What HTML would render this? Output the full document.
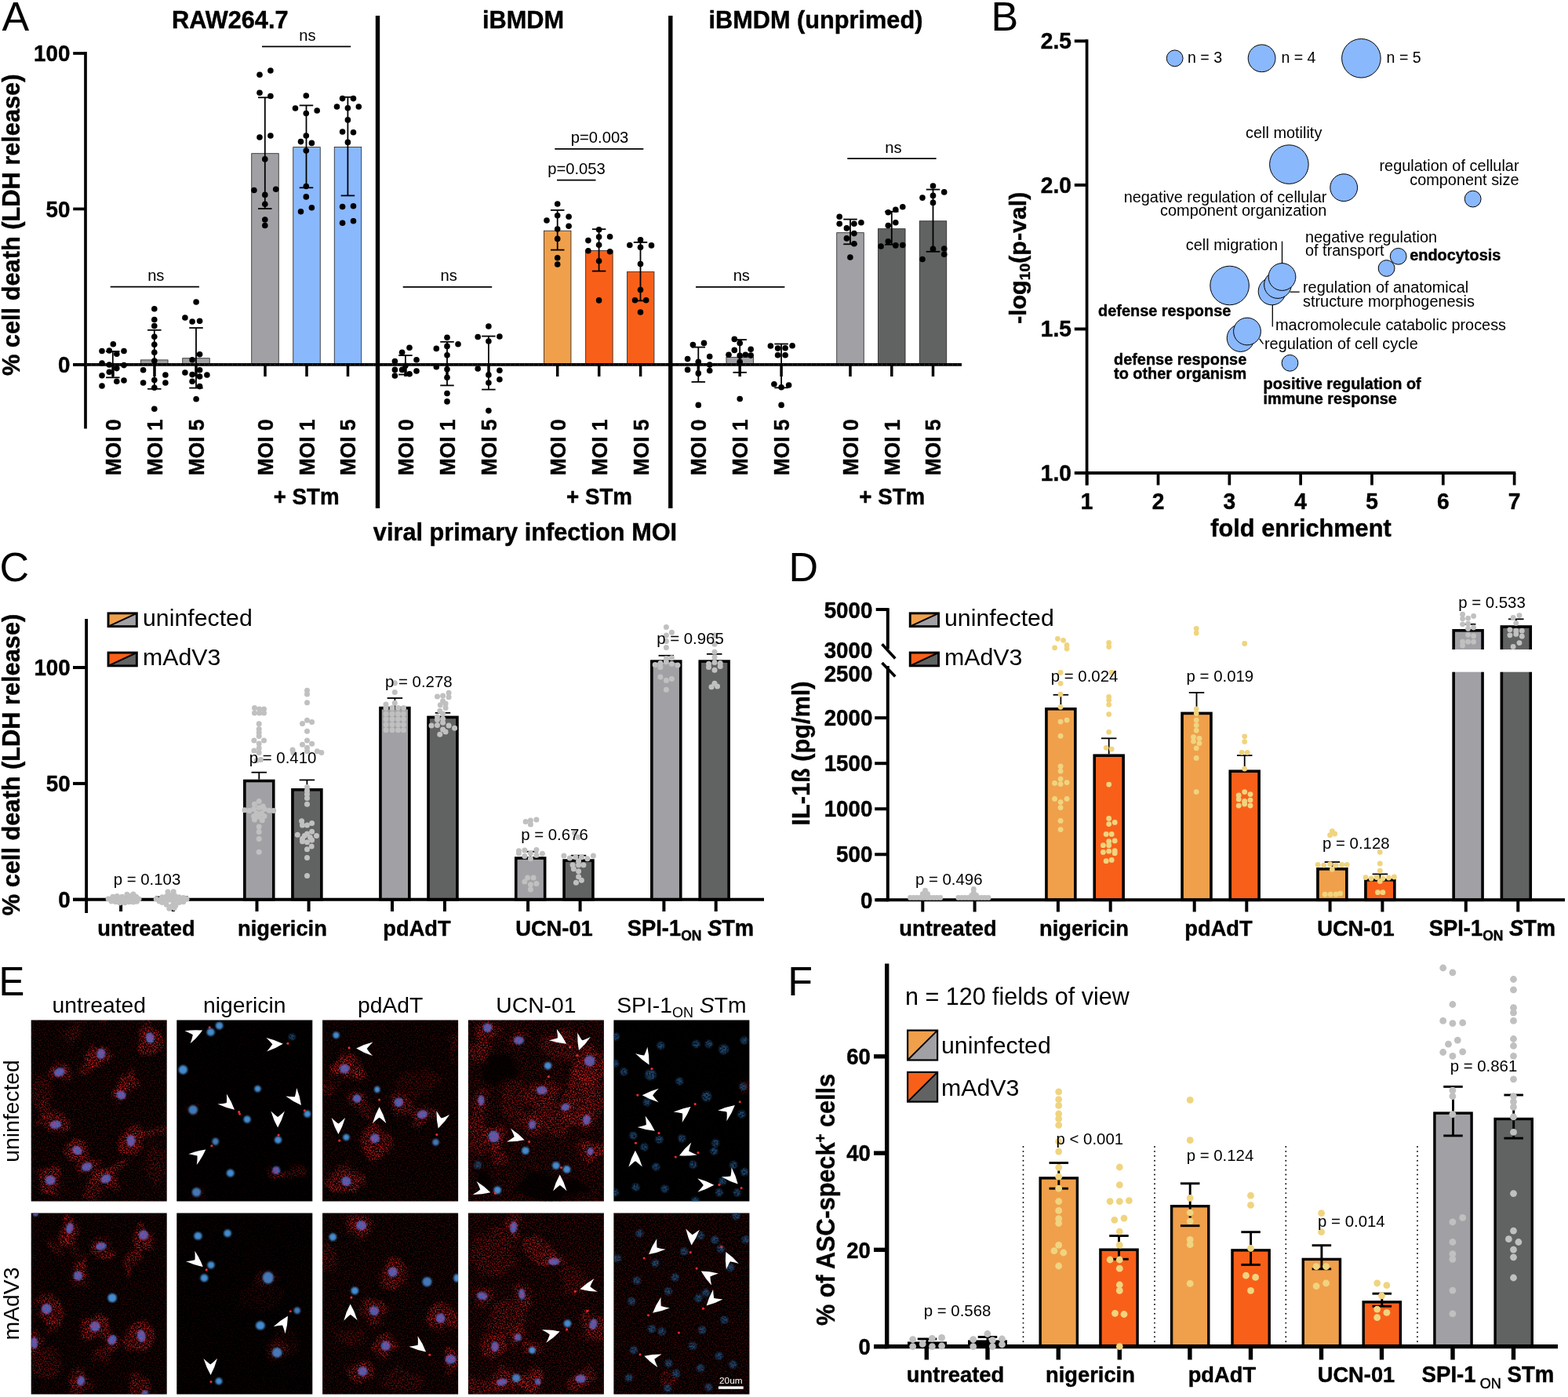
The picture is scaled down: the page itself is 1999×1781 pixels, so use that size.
<!DOCTYPE html>
<html lang="en"><head><meta charset="utf-8"><title>Figure</title>
<style>
html,body{margin:0;padding:0;background:#fff;}
body{width:1999px;height:1781px;overflow:hidden;}
svg{display:block;font-family:"Liberation Sans", Arial, Helvetica, sans-serif;}
</style></head><body>
<svg width="1999" height="1781" viewBox="0 0 1999 1781">
<rect x="0" y="0" width="1999" height="1781" fill="#fff"/>
<text x="2.50" y="39.20" font-size="52" text-anchor="start" fill="#000" >A</text>
<text x="293.30" y="36.20" font-size="31.93" font-weight="bold" stroke="#000" stroke-width="0.45" stroke-linejoin="round" text-anchor="middle" fill="#000"  textLength="148.45" lengthAdjust="spacingAndGlyphs">RAW264.7</text>
<text x="667.00" y="36.20" font-size="31.93" font-weight="bold" stroke="#000" stroke-width="0.45" stroke-linejoin="round" text-anchor="middle" fill="#000"  textLength="104.02" lengthAdjust="spacingAndGlyphs">iBMDM</text>
<text x="1040.00" y="36.20" font-size="31.93" font-weight="bold" stroke="#000" stroke-width="0.45" stroke-linejoin="round" text-anchor="middle" fill="#000"  textLength="272.85" lengthAdjust="spacingAndGlyphs">iBMDM (unprimed)</text>
<text x="25.30" y="286.80" font-size="31.98" font-weight="bold" stroke="#000" stroke-width="0.45" stroke-linejoin="round" text-anchor="middle" fill="#000" transform="rotate(-90 25.30 286.80)"  textLength="384.51" lengthAdjust="spacingAndGlyphs">% cell death (LDH release)</text>
<rect x="320.75" y="195.70" width="34.50" height="269.10" fill="#a1a1a5" stroke="#222" stroke-width="0.8" />
<rect x="373.75" y="187.60" width="34.50" height="277.20" fill="#8ab8fc" stroke="#222" stroke-width="0.8" />
<rect x="426.25" y="187.40" width="34.50" height="277.40" fill="#8ab8fc" stroke="#222" stroke-width="0.8" />
<rect x="179.55" y="458.90" width="34.50" height="5.90" fill="#a1a1a5" stroke="#222" stroke-width="0.8" />
<rect x="232.75" y="456.70" width="34.50" height="8.10" fill="#a1a1a5" stroke="#222" stroke-width="0.8" />
<rect x="693.45" y="294.20" width="34.50" height="170.60" fill="#f0a04b" stroke="#222" stroke-width="0.8" />
<rect x="746.65" y="319.60" width="34.50" height="145.20" fill="#f8601a" stroke="#222" stroke-width="0.8" />
<rect x="799.45" y="346.60" width="34.50" height="118.20" fill="#f8601a" stroke="#222" stroke-width="0.8" />
<rect x="925.95" y="455.40" width="34.50" height="9.40" fill="#a1a1a5" stroke="#222" stroke-width="0.8" />
<rect x="1066.75" y="296.70" width="34.50" height="168.10" fill="#a1a1a5" stroke="#222" stroke-width="0.8" />
<rect x="1119.55" y="291.70" width="34.50" height="173.10" fill="#616262" stroke="#222" stroke-width="0.8" />
<rect x="1172.25" y="281.80" width="34.50" height="183.00" fill="#616262" stroke="#222" stroke-width="0.8" />
<line x1="109.00" y1="66.10" x2="109.00" y2="546.60" stroke="#000" stroke-width="3.7" />
<line x1="93.20" y1="464.80" x2="109.00" y2="464.80" stroke="#000" stroke-width="3.7" />
<text x="89.30" y="475.10" font-size="28.81" font-weight="bold" stroke="#000" stroke-width="0.45" stroke-linejoin="round" text-anchor="end" fill="#000"  textLength="15.41" lengthAdjust="spacingAndGlyphs">0</text>
<line x1="93.20" y1="266.40" x2="109.00" y2="266.40" stroke="#000" stroke-width="3.7" />
<text x="89.30" y="276.70" font-size="28.81" font-weight="bold" stroke="#000" stroke-width="0.45" stroke-linejoin="round" text-anchor="end" fill="#000"  textLength="30.81" lengthAdjust="spacingAndGlyphs">50</text>
<line x1="93.20" y1="68.00" x2="109.00" y2="68.00" stroke="#000" stroke-width="3.7" />
<text x="89.30" y="78.30" font-size="28.81" font-weight="bold" stroke="#000" stroke-width="0.45" stroke-linejoin="round" text-anchor="end" fill="#000"  textLength="46.22" lengthAdjust="spacingAndGlyphs">100</text>
<line x1="93.20" y1="464.80" x2="1226.00" y2="464.80" stroke="#000" stroke-width="3.7" />
<line x1="110.00" y1="464.80" x2="1226.00" y2="464.80" stroke="#fff" stroke-width="1" stroke-dasharray="1 5" opacity="0.35"/>
<line x1="144.00" y1="464.80" x2="144.00" y2="480.00" stroke="#000" stroke-width="3.5" />
<text x="153.90" y="534.50" font-size="27.6" font-weight="bold" stroke="#000" stroke-width="0.45" stroke-linejoin="round" text-anchor="end" fill="#000" transform="rotate(-90 153.90 534.50)" textLength="71.5" lengthAdjust="spacingAndGlyphs">MOI 0</text>
<line x1="197.00" y1="464.80" x2="197.00" y2="480.00" stroke="#000" stroke-width="3.5" />
<text x="206.90" y="534.50" font-size="27.6" font-weight="bold" stroke="#000" stroke-width="0.45" stroke-linejoin="round" text-anchor="end" fill="#000" transform="rotate(-90 206.90 534.50)" textLength="71.5" lengthAdjust="spacingAndGlyphs">MOI 1</text>
<line x1="250.00" y1="464.80" x2="250.00" y2="480.00" stroke="#000" stroke-width="3.5" />
<text x="259.90" y="534.50" font-size="27.6" font-weight="bold" stroke="#000" stroke-width="0.45" stroke-linejoin="round" text-anchor="end" fill="#000" transform="rotate(-90 259.90 534.50)" textLength="71.5" lengthAdjust="spacingAndGlyphs">MOI 5</text>
<line x1="338.00" y1="464.80" x2="338.00" y2="480.00" stroke="#000" stroke-width="3.5" />
<text x="347.90" y="534.50" font-size="27.6" font-weight="bold" stroke="#000" stroke-width="0.45" stroke-linejoin="round" text-anchor="end" fill="#000" transform="rotate(-90 347.90 534.50)" textLength="71.5" lengthAdjust="spacingAndGlyphs">MOI 0</text>
<line x1="391.00" y1="464.80" x2="391.00" y2="480.00" stroke="#000" stroke-width="3.5" />
<text x="400.90" y="534.50" font-size="27.6" font-weight="bold" stroke="#000" stroke-width="0.45" stroke-linejoin="round" text-anchor="end" fill="#000" transform="rotate(-90 400.90 534.50)" textLength="71.5" lengthAdjust="spacingAndGlyphs">MOI 1</text>
<line x1="443.50" y1="464.80" x2="443.50" y2="480.00" stroke="#000" stroke-width="3.5" />
<text x="453.40" y="534.50" font-size="27.6" font-weight="bold" stroke="#000" stroke-width="0.45" stroke-linejoin="round" text-anchor="end" fill="#000" transform="rotate(-90 453.40 534.50)" textLength="71.5" lengthAdjust="spacingAndGlyphs">MOI 5</text>
<line x1="517.00" y1="464.80" x2="517.00" y2="480.00" stroke="#000" stroke-width="3.5" />
<text x="526.90" y="534.50" font-size="27.6" font-weight="bold" stroke="#000" stroke-width="0.45" stroke-linejoin="round" text-anchor="end" fill="#000" transform="rotate(-90 526.90 534.50)" textLength="71.5" lengthAdjust="spacingAndGlyphs">MOI 0</text>
<line x1="570.00" y1="464.80" x2="570.00" y2="480.00" stroke="#000" stroke-width="3.5" />
<text x="579.90" y="534.50" font-size="27.6" font-weight="bold" stroke="#000" stroke-width="0.45" stroke-linejoin="round" text-anchor="end" fill="#000" transform="rotate(-90 579.90 534.50)" textLength="71.5" lengthAdjust="spacingAndGlyphs">MOI 1</text>
<line x1="623.00" y1="464.80" x2="623.00" y2="480.00" stroke="#000" stroke-width="3.5" />
<text x="632.90" y="534.50" font-size="27.6" font-weight="bold" stroke="#000" stroke-width="0.45" stroke-linejoin="round" text-anchor="end" fill="#000" transform="rotate(-90 632.90 534.50)" textLength="71.5" lengthAdjust="spacingAndGlyphs">MOI 5</text>
<line x1="710.70" y1="464.80" x2="710.70" y2="480.00" stroke="#000" stroke-width="3.5" />
<text x="720.60" y="534.50" font-size="27.6" font-weight="bold" stroke="#000" stroke-width="0.45" stroke-linejoin="round" text-anchor="end" fill="#000" transform="rotate(-90 720.60 534.50)" textLength="71.5" lengthAdjust="spacingAndGlyphs">MOI 0</text>
<line x1="763.70" y1="464.80" x2="763.70" y2="480.00" stroke="#000" stroke-width="3.5" />
<text x="773.60" y="534.50" font-size="27.6" font-weight="bold" stroke="#000" stroke-width="0.45" stroke-linejoin="round" text-anchor="end" fill="#000" transform="rotate(-90 773.60 534.50)" textLength="71.5" lengthAdjust="spacingAndGlyphs">MOI 1</text>
<line x1="816.60" y1="464.80" x2="816.60" y2="480.00" stroke="#000" stroke-width="3.5" />
<text x="826.50" y="534.50" font-size="27.6" font-weight="bold" stroke="#000" stroke-width="0.45" stroke-linejoin="round" text-anchor="end" fill="#000" transform="rotate(-90 826.50 534.50)" textLength="71.5" lengthAdjust="spacingAndGlyphs">MOI 5</text>
<line x1="890.30" y1="464.80" x2="890.30" y2="480.00" stroke="#000" stroke-width="3.5" />
<text x="900.20" y="534.50" font-size="27.6" font-weight="bold" stroke="#000" stroke-width="0.45" stroke-linejoin="round" text-anchor="end" fill="#000" transform="rotate(-90 900.20 534.50)" textLength="71.5" lengthAdjust="spacingAndGlyphs">MOI 0</text>
<line x1="943.20" y1="464.80" x2="943.20" y2="480.00" stroke="#000" stroke-width="3.5" />
<text x="953.10" y="534.50" font-size="27.6" font-weight="bold" stroke="#000" stroke-width="0.45" stroke-linejoin="round" text-anchor="end" fill="#000" transform="rotate(-90 953.10 534.50)" textLength="71.5" lengthAdjust="spacingAndGlyphs">MOI 1</text>
<line x1="996.10" y1="464.80" x2="996.10" y2="480.00" stroke="#000" stroke-width="3.5" />
<text x="1006.00" y="534.50" font-size="27.6" font-weight="bold" stroke="#000" stroke-width="0.45" stroke-linejoin="round" text-anchor="end" fill="#000" transform="rotate(-90 1006.00 534.50)" textLength="71.5" lengthAdjust="spacingAndGlyphs">MOI 5</text>
<line x1="1084.00" y1="464.80" x2="1084.00" y2="480.00" stroke="#000" stroke-width="3.5" />
<text x="1093.90" y="534.50" font-size="27.6" font-weight="bold" stroke="#000" stroke-width="0.45" stroke-linejoin="round" text-anchor="end" fill="#000" transform="rotate(-90 1093.90 534.50)" textLength="71.5" lengthAdjust="spacingAndGlyphs">MOI 0</text>
<line x1="1136.80" y1="464.80" x2="1136.80" y2="480.00" stroke="#000" stroke-width="3.5" />
<text x="1146.70" y="534.50" font-size="27.6" font-weight="bold" stroke="#000" stroke-width="0.45" stroke-linejoin="round" text-anchor="end" fill="#000" transform="rotate(-90 1146.70 534.50)" textLength="71.5" lengthAdjust="spacingAndGlyphs">MOI 1</text>
<line x1="1189.50" y1="464.80" x2="1189.50" y2="480.00" stroke="#000" stroke-width="3.5" />
<text x="1199.40" y="534.50" font-size="27.6" font-weight="bold" stroke="#000" stroke-width="0.45" stroke-linejoin="round" text-anchor="end" fill="#000" transform="rotate(-90 1199.40 534.50)" textLength="71.5" lengthAdjust="spacingAndGlyphs">MOI 5</text>
<text x="390.60" y="642.50" font-size="28.81" font-weight="bold" stroke="#000" stroke-width="0.45" stroke-linejoin="round" text-anchor="middle" fill="#000"  textLength="83.90" lengthAdjust="spacingAndGlyphs">+ STm</text>
<text x="764.00" y="642.50" font-size="28.81" font-weight="bold" stroke="#000" stroke-width="0.45" stroke-linejoin="round" text-anchor="middle" fill="#000"  textLength="83.90" lengthAdjust="spacingAndGlyphs">+ STm</text>
<text x="1137.30" y="642.50" font-size="28.81" font-weight="bold" stroke="#000" stroke-width="0.45" stroke-linejoin="round" text-anchor="middle" fill="#000"  textLength="83.90" lengthAdjust="spacingAndGlyphs">+ STm</text>
<text x="669.50" y="689.00" font-size="31.93" font-weight="bold" stroke="#000" stroke-width="0.45" stroke-linejoin="round" text-anchor="middle" fill="#000"  textLength="387.26" lengthAdjust="spacingAndGlyphs">viral primary infection MOI</text>
<line x1="481.50" y1="20.00" x2="481.50" y2="648.00" stroke="#000" stroke-width="5.4" />
<line x1="854.80" y1="20.00" x2="854.80" y2="648.00" stroke="#000" stroke-width="5.4" />
<line x1="143.80" y1="448.00" x2="143.80" y2="481.30" stroke="#000" stroke-width="1.8" />
<line x1="135.05" y1="448.00" x2="152.55" y2="448.00" stroke="#000" stroke-width="1.8" />
<line x1="135.05" y1="481.30" x2="152.55" y2="481.30" stroke="#000" stroke-width="1.8" />
<line x1="196.80" y1="420.80" x2="196.80" y2="495.80" stroke="#000" stroke-width="1.8" />
<line x1="188.05" y1="420.80" x2="205.55" y2="420.80" stroke="#000" stroke-width="1.8" />
<line x1="188.05" y1="495.80" x2="205.55" y2="495.80" stroke="#000" stroke-width="1.8" />
<line x1="250.00" y1="418.00" x2="250.00" y2="494.60" stroke="#000" stroke-width="1.8" />
<line x1="241.25" y1="418.00" x2="258.75" y2="418.00" stroke="#000" stroke-width="1.8" />
<line x1="241.25" y1="494.60" x2="258.75" y2="494.60" stroke="#000" stroke-width="1.8" />
<line x1="337.80" y1="124.30" x2="337.80" y2="266.00" stroke="#000" stroke-width="1.8" />
<line x1="329.05" y1="124.30" x2="346.55" y2="124.30" stroke="#000" stroke-width="1.8" />
<line x1="329.05" y1="266.00" x2="346.55" y2="266.00" stroke="#000" stroke-width="1.8" />
<line x1="390.50" y1="134.40" x2="390.50" y2="239.30" stroke="#000" stroke-width="1.8" />
<line x1="381.75" y1="134.40" x2="399.25" y2="134.40" stroke="#000" stroke-width="1.8" />
<line x1="381.75" y1="239.30" x2="399.25" y2="239.30" stroke="#000" stroke-width="1.8" />
<line x1="443.40" y1="123.80" x2="443.40" y2="249.40" stroke="#000" stroke-width="1.8" />
<line x1="434.65" y1="123.80" x2="452.15" y2="123.80" stroke="#000" stroke-width="1.8" />
<line x1="434.65" y1="249.40" x2="452.15" y2="249.40" stroke="#000" stroke-width="1.8" />
<line x1="516.90" y1="453.10" x2="516.90" y2="477.50" stroke="#000" stroke-width="1.8" />
<line x1="508.15" y1="453.10" x2="525.65" y2="453.10" stroke="#000" stroke-width="1.8" />
<line x1="508.15" y1="477.50" x2="525.65" y2="477.50" stroke="#000" stroke-width="1.8" />
<line x1="570.00" y1="435.80" x2="570.00" y2="491.40" stroke="#000" stroke-width="1.8" />
<line x1="561.25" y1="435.80" x2="578.75" y2="435.80" stroke="#000" stroke-width="1.8" />
<line x1="561.25" y1="491.40" x2="578.75" y2="491.40" stroke="#000" stroke-width="1.8" />
<line x1="622.90" y1="428.60" x2="622.90" y2="496.60" stroke="#000" stroke-width="1.8" />
<line x1="614.15" y1="428.60" x2="631.65" y2="428.60" stroke="#000" stroke-width="1.8" />
<line x1="614.15" y1="496.60" x2="631.65" y2="496.60" stroke="#000" stroke-width="1.8" />
<line x1="710.70" y1="267.90" x2="710.70" y2="318.60" stroke="#000" stroke-width="1.8" />
<line x1="701.95" y1="267.90" x2="719.45" y2="267.90" stroke="#000" stroke-width="1.8" />
<line x1="701.95" y1="318.60" x2="719.45" y2="318.60" stroke="#000" stroke-width="1.8" />
<line x1="763.60" y1="292.20" x2="763.60" y2="345.60" stroke="#000" stroke-width="1.8" />
<line x1="754.85" y1="292.20" x2="772.35" y2="292.20" stroke="#000" stroke-width="1.8" />
<line x1="754.85" y1="345.60" x2="772.35" y2="345.60" stroke="#000" stroke-width="1.8" />
<line x1="816.50" y1="308.90" x2="816.50" y2="383.40" stroke="#000" stroke-width="1.8" />
<line x1="807.75" y1="308.90" x2="825.25" y2="308.90" stroke="#000" stroke-width="1.8" />
<line x1="807.75" y1="383.40" x2="825.25" y2="383.40" stroke="#000" stroke-width="1.8" />
<line x1="890.30" y1="442.60" x2="890.30" y2="486.90" stroke="#000" stroke-width="1.8" />
<line x1="881.55" y1="442.60" x2="899.05" y2="442.60" stroke="#000" stroke-width="1.8" />
<line x1="881.55" y1="486.90" x2="899.05" y2="486.90" stroke="#000" stroke-width="1.8" />
<line x1="943.20" y1="433.10" x2="943.20" y2="474.80" stroke="#000" stroke-width="1.8" />
<line x1="934.45" y1="433.10" x2="951.95" y2="433.10" stroke="#000" stroke-width="1.8" />
<line x1="934.45" y1="474.80" x2="951.95" y2="474.80" stroke="#000" stroke-width="1.8" />
<line x1="996.10" y1="438.50" x2="996.10" y2="494.30" stroke="#000" stroke-width="1.8" />
<line x1="987.35" y1="438.50" x2="1004.85" y2="438.50" stroke="#000" stroke-width="1.8" />
<line x1="987.35" y1="494.30" x2="1004.85" y2="494.30" stroke="#000" stroke-width="1.8" />
<line x1="1084.00" y1="279.60" x2="1084.00" y2="311.30" stroke="#000" stroke-width="1.8" />
<line x1="1075.25" y1="279.60" x2="1092.75" y2="279.60" stroke="#000" stroke-width="1.8" />
<line x1="1075.25" y1="311.30" x2="1092.75" y2="311.30" stroke="#000" stroke-width="1.8" />
<line x1="1136.80" y1="269.70" x2="1136.80" y2="311.80" stroke="#000" stroke-width="1.8" />
<line x1="1128.05" y1="269.70" x2="1145.55" y2="269.70" stroke="#000" stroke-width="1.8" />
<line x1="1128.05" y1="311.80" x2="1145.55" y2="311.80" stroke="#000" stroke-width="1.8" />
<line x1="1189.50" y1="241.60" x2="1189.50" y2="320.80" stroke="#000" stroke-width="1.8" />
<line x1="1180.75" y1="241.60" x2="1198.25" y2="241.60" stroke="#000" stroke-width="1.8" />
<line x1="1180.75" y1="320.80" x2="1198.25" y2="320.80" stroke="#000" stroke-width="1.8" />
<g fill="#000" ><circle cx="331.0" cy="95.3" r="3.8"/><circle cx="344.9" cy="90.0" r="3.8"/><circle cx="331.0" cy="118.2" r="3.8"/><circle cx="344.9" cy="122.5" r="3.8"/><circle cx="331.0" cy="175.0" r="3.8"/><circle cx="344.9" cy="173.0" r="3.8"/><circle cx="337.8" cy="202.9" r="3.8"/><circle cx="323.9" cy="242.5" r="3.8"/><circle cx="351.7" cy="241.3" r="3.8"/><circle cx="337.8" cy="248.4" r="3.8"/><circle cx="337.8" cy="260.2" r="3.8"/><circle cx="337.8" cy="280.0" r="3.8"/><circle cx="337.8" cy="287.5" r="3.8"/><circle cx="390.3" cy="122.0" r="3.8"/><circle cx="376.5" cy="138.0" r="3.8"/><circle cx="404.2" cy="141.0" r="3.8"/><circle cx="390.3" cy="144.5" r="3.8"/><circle cx="390.3" cy="173.0" r="3.8"/><circle cx="383.5" cy="180.6" r="3.8"/><circle cx="397.4" cy="182.4" r="3.8"/><circle cx="390.3" cy="192.0" r="3.8"/><circle cx="390.3" cy="237.5" r="3.8"/><circle cx="390.3" cy="250.9" r="3.8"/><circle cx="383.5" cy="269.8" r="3.8"/><circle cx="397.4" cy="264.8" r="3.8"/><circle cx="436.6" cy="125.6" r="3.8"/><circle cx="450.5" cy="125.6" r="3.8"/><circle cx="429.5" cy="136.0" r="3.8"/><circle cx="457.3" cy="136.0" r="3.8"/><circle cx="443.4" cy="137.7" r="3.8"/><circle cx="443.4" cy="152.9" r="3.8"/><circle cx="436.6" cy="168.0" r="3.8"/><circle cx="450.5" cy="168.8" r="3.8"/><circle cx="443.4" cy="181.4" r="3.8"/><circle cx="436.6" cy="263.5" r="3.8"/><circle cx="450.5" cy="262.8" r="3.8"/><circle cx="436.6" cy="284.2" r="3.8"/><circle cx="450.5" cy="281.7" r="3.8"/><circle cx="144.3" cy="438.8" r="3.8"/><circle cx="130.0" cy="447.5" r="3.8"/><circle cx="139.3" cy="447.0" r="3.8"/><circle cx="158.0" cy="447.5" r="3.8"/><circle cx="148.8" cy="451.3" r="3.8"/><circle cx="130.0" cy="463.0" r="3.8"/><circle cx="139.3" cy="465.0" r="3.8"/><circle cx="158.0" cy="465.6" r="3.8"/><circle cx="148.8" cy="469.6" r="3.8"/><circle cx="139.3" cy="474.3" r="3.8"/><circle cx="130.0" cy="478.8" r="3.8"/><circle cx="158.0" cy="485.0" r="3.8"/><circle cx="148.8" cy="486.3" r="3.8"/><circle cx="130.0" cy="492.0" r="3.8"/><circle cx="196.8" cy="393.8" r="3.8"/><circle cx="196.8" cy="407.5" r="3.8"/><circle cx="196.8" cy="415.5" r="3.8"/><circle cx="196.8" cy="429.3" r="3.8"/><circle cx="196.8" cy="439.3" r="3.8"/><circle cx="196.8" cy="449.3" r="3.8"/><circle cx="196.8" cy="460.0" r="3.8"/><circle cx="182.6" cy="471.8" r="3.8"/><circle cx="210.9" cy="478.0" r="3.8"/><circle cx="196.8" cy="484.6" r="3.8"/><circle cx="182.6" cy="488.0" r="3.8"/><circle cx="210.9" cy="488.0" r="3.8"/><circle cx="196.8" cy="494.3" r="3.8"/><circle cx="196.8" cy="521.3" r="3.8"/><circle cx="250.1" cy="385.0" r="3.8"/><circle cx="235.9" cy="405.0" r="3.8"/><circle cx="245.1" cy="410.0" r="3.8"/><circle cx="254.6" cy="409.3" r="3.8"/><circle cx="254.6" cy="451.8" r="3.8"/><circle cx="245.1" cy="458.8" r="3.8"/><circle cx="254.6" cy="471.8" r="3.8"/><circle cx="235.9" cy="475.0" r="3.8"/><circle cx="245.1" cy="477.6" r="3.8"/><circle cx="263.9" cy="478.0" r="3.8"/><circle cx="254.6" cy="480.0" r="3.8"/><circle cx="245.1" cy="486.3" r="3.8"/><circle cx="254.6" cy="492.6" r="3.8"/><circle cx="250.1" cy="508.8" r="3.8"/><circle cx="522.0" cy="443.2" r="3.8"/><circle cx="512.6" cy="449.3" r="3.8"/><circle cx="503.4" cy="460.6" r="3.8"/><circle cx="531.0" cy="458.8" r="3.8"/><circle cx="516.9" cy="466.2" r="3.8"/><circle cx="503.4" cy="471.4" r="3.8"/><circle cx="512.6" cy="471.4" r="3.8"/><circle cx="531.0" cy="473.0" r="3.8"/><circle cx="522.0" cy="476.8" r="3.8"/><circle cx="503.4" cy="479.0" r="3.8"/><circle cx="570.0" cy="430.2" r="3.8"/><circle cx="584.0" cy="438.7" r="3.8"/><circle cx="556.3" cy="444.4" r="3.8"/><circle cx="570.0" cy="441.4" r="3.8"/><circle cx="570.0" cy="452.7" r="3.8"/><circle cx="556.3" cy="467.8" r="3.8"/><circle cx="570.0" cy="470.7" r="3.8"/><circle cx="570.0" cy="481.3" r="3.8"/><circle cx="570.0" cy="501.5" r="3.8"/><circle cx="570.0" cy="511.9" r="3.8"/><circle cx="622.9" cy="416.0" r="3.8"/><circle cx="609.2" cy="429.5" r="3.8"/><circle cx="636.9" cy="429.0" r="3.8"/><circle cx="622.9" cy="435.1" r="3.8"/><circle cx="609.2" cy="470.0" r="3.8"/><circle cx="636.9" cy="472.3" r="3.8"/><circle cx="622.9" cy="477.9" r="3.8"/><circle cx="636.9" cy="483.8" r="3.8"/><circle cx="622.9" cy="488.0" r="3.8"/><circle cx="622.9" cy="523.6" r="3.8"/><circle cx="710.7" cy="260.0" r="3.8"/><circle cx="710.7" cy="274.7" r="3.8"/><circle cx="725.1" cy="276.2" r="3.8"/><circle cx="697.0" cy="281.0" r="3.8"/><circle cx="725.1" cy="288.2" r="3.8"/><circle cx="710.7" cy="292.0" r="3.8"/><circle cx="710.7" cy="304.4" r="3.8"/><circle cx="710.7" cy="328.7" r="3.8"/><circle cx="710.7" cy="337.0" r="3.8"/><circle cx="763.6" cy="292.7" r="3.8"/><circle cx="763.6" cy="302.1" r="3.8"/><circle cx="777.6" cy="301.7" r="3.8"/><circle cx="749.9" cy="306.6" r="3.8"/><circle cx="763.6" cy="312.2" r="3.8"/><circle cx="749.9" cy="319.7" r="3.8"/><circle cx="777.6" cy="320.8" r="3.8"/><circle cx="763.6" cy="332.7" r="3.8"/><circle cx="763.6" cy="382.9" r="3.8"/><circle cx="816.5" cy="305.7" r="3.8"/><circle cx="802.8" cy="312.5" r="3.8"/><circle cx="830.5" cy="312.9" r="3.8"/><circle cx="816.5" cy="315.2" r="3.8"/><circle cx="816.5" cy="336.6" r="3.8"/><circle cx="816.5" cy="369.6" r="3.8"/><circle cx="809.5" cy="382.8" r="3.8"/><circle cx="823.7" cy="382.8" r="3.8"/><circle cx="816.5" cy="398.0" r="3.8"/><circle cx="883.4" cy="439.6" r="3.8"/><circle cx="897.5" cy="437.4" r="3.8"/><circle cx="876.6" cy="457.6" r="3.8"/><circle cx="904.7" cy="454.5" r="3.8"/><circle cx="890.3" cy="461.2" r="3.8"/><circle cx="904.7" cy="465.1" r="3.8"/><circle cx="876.6" cy="471.4" r="3.8"/><circle cx="904.7" cy="472.5" r="3.8"/><circle cx="890.3" cy="475.9" r="3.8"/><circle cx="890.3" cy="516.4" r="3.8"/><circle cx="936.3" cy="432.4" r="3.8"/><circle cx="943.2" cy="437.4" r="3.8"/><circle cx="936.3" cy="446.4" r="3.8"/><circle cx="957.2" cy="445.3" r="3.8"/><circle cx="929.0" cy="452.2" r="3.8"/><circle cx="943.2" cy="453.4" r="3.8"/><circle cx="950.4" cy="452.2" r="3.8"/><circle cx="957.2" cy="453.1" r="3.8"/><circle cx="943.2" cy="461.2" r="3.8"/><circle cx="943.2" cy="508.5" r="3.8"/><circle cx="982.4" cy="441.0" r="3.8"/><circle cx="1010.1" cy="440.8" r="3.8"/><circle cx="991.6" cy="444.1" r="3.8"/><circle cx="1001.1" cy="443.7" r="3.8"/><circle cx="991.6" cy="452.7" r="3.8"/><circle cx="1001.1" cy="452.7" r="3.8"/><circle cx="986.9" cy="489.8" r="3.8"/><circle cx="1005.6" cy="491.0" r="3.8"/><circle cx="996.1" cy="493.7" r="3.8"/><circle cx="996.1" cy="516.4" r="3.8"/><circle cx="1070.2" cy="276.2" r="3.8"/><circle cx="1070.2" cy="285.2" r="3.8"/><circle cx="1088.9" cy="285.2" r="3.8"/><circle cx="1097.9" cy="283.7" r="3.8"/><circle cx="1079.4" cy="290.9" r="3.8"/><circle cx="1088.9" cy="297.6" r="3.8"/><circle cx="1079.4" cy="303.9" r="3.8"/><circle cx="1088.9" cy="310.7" r="3.8"/><circle cx="1083.9" cy="328.0" r="3.8"/><circle cx="1150.8" cy="263.8" r="3.8"/><circle cx="1141.8" cy="267.2" r="3.8"/><circle cx="1132.3" cy="270.8" r="3.8"/><circle cx="1141.8" cy="283.7" r="3.8"/><circle cx="1132.3" cy="287.5" r="3.8"/><circle cx="1132.3" cy="307.7" r="3.8"/><circle cx="1123.1" cy="314.0" r="3.8"/><circle cx="1141.8" cy="312.9" r="3.8"/><circle cx="1150.8" cy="312.5" r="3.8"/><circle cx="1189.5" cy="237.0" r="3.8"/><circle cx="1203.7" cy="244.9" r="3.8"/><circle cx="1189.5" cy="249.4" r="3.8"/><circle cx="1176.0" cy="252.1" r="3.8"/><circle cx="1189.5" cy="258.4" r="3.8"/><circle cx="1189.5" cy="317.4" r="3.8"/><circle cx="1203.7" cy="317.0" r="3.8"/><circle cx="1203.7" cy="324.2" r="3.8"/><circle cx="1176.0" cy="330.5" r="3.8"/></g>
<line x1="140.70" y1="365.60" x2="254.00" y2="365.60" stroke="#000" stroke-width="1.8" />
<text x="198.80" y="358.10" font-size="20.2" text-anchor="middle" fill="#000" >ns</text>
<line x1="334.00" y1="59.40" x2="447.20" y2="59.40" stroke="#000" stroke-width="1.8" />
<text x="392.00" y="51.90" font-size="20.2" text-anchor="middle" fill="#000" >ns</text>
<line x1="513.70" y1="365.80" x2="627.20" y2="365.80" stroke="#000" stroke-width="1.8" />
<text x="572.20" y="358.30" font-size="20.2" text-anchor="middle" fill="#000" >ns</text>
<line x1="707.30" y1="189.80" x2="820.30" y2="189.80" stroke="#000" stroke-width="1.8" />
<text x="764.60" y="182.30" font-size="20.2" text-anchor="middle" fill="#000" >p=0.003</text>
<line x1="710.00" y1="229.60" x2="759.50" y2="229.60" stroke="#000" stroke-width="1.8" />
<text x="735.00" y="222.10" font-size="20.2" text-anchor="middle" fill="#000" >p=0.053</text>
<line x1="887.00" y1="365.80" x2="1000.40" y2="365.80" stroke="#000" stroke-width="1.8" />
<text x="945.30" y="358.30" font-size="20.2" text-anchor="middle" fill="#000" >ns</text>
<line x1="1080.30" y1="202.20" x2="1193.60" y2="202.20" stroke="#000" stroke-width="1.8" />
<text x="1138.90" y="194.70" font-size="20.2" text-anchor="middle" fill="#000" >ns</text>
<text x="1263.50" y="38.50" font-size="52" text-anchor="start" fill="#000" >B</text>
<circle cx="1497.70" cy="74.30" r="10.40" fill="#8ab8fc" stroke="#000" stroke-width="1" />
<circle cx="1608.60" cy="74.30" r="17.40" fill="#8ab8fc" stroke="#000" stroke-width="1" />
<circle cx="1735.40" cy="74.30" r="24.80" fill="#8ab8fc" stroke="#000" stroke-width="1" />
<text x="1514.00" y="79.80" font-size="19.6" text-anchor="start" fill="#000" >n = 3</text>
<text x="1633.40" y="79.80" font-size="19.6" text-anchor="start" fill="#000" >n = 4</text>
<text x="1767.60" y="79.80" font-size="19.6" text-anchor="start" fill="#000" >n = 5</text>
<circle cx="1643.40" cy="209.60" r="24.80" fill="#8ab8fc" stroke="#000" stroke-width="1" />
<circle cx="1713.20" cy="239.20" r="17.40" fill="#8ab8fc" stroke="#000" stroke-width="1" />
<circle cx="1877.70" cy="253.60" r="10.40" fill="#8ab8fc" stroke="#000" stroke-width="1" />
<circle cx="1767.60" cy="342.00" r="10.40" fill="#8ab8fc" stroke="#000" stroke-width="1" />
<circle cx="1782.70" cy="326.80" r="10.40" fill="#8ab8fc" stroke="#000" stroke-width="1" />
<circle cx="1567.60" cy="364.00" r="24.80" fill="#8ab8fc" stroke="#000" stroke-width="1" />
<circle cx="1621.60" cy="371.40" r="17.40" fill="#8ab8fc" stroke="#000" stroke-width="1" />
<circle cx="1629.00" cy="363.00" r="17.40" fill="#8ab8fc" stroke="#000" stroke-width="1" />
<circle cx="1634.50" cy="353.00" r="17.40" fill="#8ab8fc" stroke="#000" stroke-width="1" />
<circle cx="1581.60" cy="431.00" r="17.40" fill="#8ab8fc" stroke="#000" stroke-width="1" />
<circle cx="1590.00" cy="422.50" r="17.40" fill="#8ab8fc" stroke="#000" stroke-width="1" />
<circle cx="1644.50" cy="462.80" r="10.40" fill="#8ab8fc" stroke="#000" stroke-width="1" />
<text x="1636.70" y="175.60" font-size="19.9" text-anchor="middle" fill="#000" >cell motility</text>
<text x="1936.50" y="218.10" font-size="19.9" text-anchor="end" fill="#000" >regulation of cellular</text>
<text x="1936.50" y="235.90" font-size="19.9" text-anchor="end" fill="#000" >component size</text>
<text x="1691.40" y="257.70" font-size="19.9" text-anchor="end" fill="#000" >negative regulation of cellular</text>
<text x="1691.40" y="275.40" font-size="19.9" text-anchor="end" fill="#000" >component organization</text>
<text x="1629.00" y="318.70" font-size="19.9" text-anchor="end" fill="#000" >cell migration</text>
<line x1="1634.50" y1="307.60" x2="1634.50" y2="336.00" stroke="#000" stroke-width="1.3" />
<text x="1664.00" y="308.70" font-size="19.9" text-anchor="start" fill="#000" >negative regulation</text>
<text x="1664.00" y="326.40" font-size="19.9" text-anchor="start" fill="#000" >of transport</text>
<text x="1797.20" y="331.60" font-size="20.7" font-weight="bold" stroke="#000" stroke-width="0.45" stroke-linejoin="round" text-anchor="start" fill="#000"  textLength="116.12" lengthAdjust="spacingAndGlyphs">endocytosis</text>
<text x="1661.00" y="372.90" font-size="19.9" text-anchor="start" fill="#000" >regulation of anatomical</text>
<text x="1661.00" y="390.70" font-size="19.9" text-anchor="start" fill="#000" >structure morphogenesis</text>
<line x1="1644.50" y1="372.20" x2="1656.70" y2="372.20" stroke="#000" stroke-width="1.3" />
<text x="1569.30" y="402.50" font-size="20.7" font-weight="bold" stroke="#000" stroke-width="0.45" stroke-linejoin="round" text-anchor="end" fill="#000"  textLength="169.22" lengthAdjust="spacingAndGlyphs">defense response</text>
<text x="1626.00" y="421.30" font-size="19.9" text-anchor="start" fill="#000" >macromolecule catabolic process</text>
<line x1="1622.30" y1="388.80" x2="1622.30" y2="416.50" stroke="#000" stroke-width="1.3" />
<text x="1612.00" y="445.00" font-size="19.9" text-anchor="start" fill="#000" >regulation of cell cycle</text>
<line x1="1605.70" y1="432.00" x2="1610.50" y2="438.70" stroke="#000" stroke-width="1.3" />
<text x="1420.00" y="465.30" font-size="20.7" font-weight="bold" stroke="#000" stroke-width="0.45" stroke-linejoin="round" text-anchor="start" fill="#000"  textLength="169.22" lengthAdjust="spacingAndGlyphs">defense response</text>
<text x="1420.00" y="483.00" font-size="20.7" font-weight="bold" stroke="#000" stroke-width="0.45" stroke-linejoin="round" text-anchor="start" fill="#000"  textLength="169.16" lengthAdjust="spacingAndGlyphs">to other organism</text>
<text x="1610.50" y="496.00" font-size="20.7" font-weight="bold" stroke="#000" stroke-width="0.45" stroke-linejoin="round" text-anchor="start" fill="#000"  textLength="201.23" lengthAdjust="spacingAndGlyphs">positive regulation of</text>
<text x="1610.50" y="514.50" font-size="20.7" font-weight="bold" stroke="#000" stroke-width="0.45" stroke-linejoin="round" text-anchor="start" fill="#000"  textLength="170.31" lengthAdjust="spacingAndGlyphs">immune response</text>
<line x1="1385.60" y1="50.30" x2="1385.60" y2="618.50" stroke="#000" stroke-width="3.7" />
<line x1="1370.00" y1="603.00" x2="1932.30" y2="603.00" stroke="#000" stroke-width="3.9" />
<line x1="1369.80" y1="603.00" x2="1385.60" y2="603.00" stroke="#000" stroke-width="3.9" />
<text x="1366.00" y="613.00" font-size="29.33" font-weight="bold" stroke="#000" stroke-width="0.45" stroke-linejoin="round" text-anchor="end" fill="#000"  textLength="39.20" lengthAdjust="spacingAndGlyphs">1.0</text>
<line x1="1369.80" y1="419.45" x2="1385.60" y2="419.45" stroke="#000" stroke-width="3.9" />
<text x="1366.00" y="429.45" font-size="29.33" font-weight="bold" stroke="#000" stroke-width="0.45" stroke-linejoin="round" text-anchor="end" fill="#000"  textLength="39.20" lengthAdjust="spacingAndGlyphs">1.5</text>
<line x1="1369.80" y1="235.90" x2="1385.60" y2="235.90" stroke="#000" stroke-width="3.9" />
<text x="1366.00" y="245.90" font-size="29.33" font-weight="bold" stroke="#000" stroke-width="0.45" stroke-linejoin="round" text-anchor="end" fill="#000"  textLength="39.20" lengthAdjust="spacingAndGlyphs">2.0</text>
<line x1="1369.80" y1="52.35" x2="1385.60" y2="52.35" stroke="#000" stroke-width="3.9" />
<text x="1366.00" y="62.35" font-size="29.33" font-weight="bold" stroke="#000" stroke-width="0.45" stroke-linejoin="round" text-anchor="end" fill="#000"  textLength="39.20" lengthAdjust="spacingAndGlyphs">2.5</text>
<line x1="1385.70" y1="603.00" x2="1385.70" y2="618.50" stroke="#000" stroke-width="3.7" />
<text x="1385.70" y="649.30" font-size="29.33" font-weight="bold" stroke="#000" stroke-width="0.45" stroke-linejoin="round" text-anchor="middle" fill="#000"  textLength="15.68" lengthAdjust="spacingAndGlyphs">1</text>
<line x1="1476.52" y1="603.00" x2="1476.52" y2="618.50" stroke="#000" stroke-width="3.7" />
<text x="1476.52" y="649.30" font-size="29.33" font-weight="bold" stroke="#000" stroke-width="0.45" stroke-linejoin="round" text-anchor="middle" fill="#000"  textLength="15.68" lengthAdjust="spacingAndGlyphs">2</text>
<line x1="1567.34" y1="603.00" x2="1567.34" y2="618.50" stroke="#000" stroke-width="3.7" />
<text x="1567.34" y="649.30" font-size="29.33" font-weight="bold" stroke="#000" stroke-width="0.45" stroke-linejoin="round" text-anchor="middle" fill="#000"  textLength="15.68" lengthAdjust="spacingAndGlyphs">3</text>
<line x1="1658.16" y1="603.00" x2="1658.16" y2="618.50" stroke="#000" stroke-width="3.7" />
<text x="1658.16" y="649.30" font-size="29.33" font-weight="bold" stroke="#000" stroke-width="0.45" stroke-linejoin="round" text-anchor="middle" fill="#000"  textLength="15.68" lengthAdjust="spacingAndGlyphs">4</text>
<line x1="1748.98" y1="603.00" x2="1748.98" y2="618.50" stroke="#000" stroke-width="3.7" />
<text x="1748.98" y="649.30" font-size="29.33" font-weight="bold" stroke="#000" stroke-width="0.45" stroke-linejoin="round" text-anchor="middle" fill="#000"  textLength="15.68" lengthAdjust="spacingAndGlyphs">5</text>
<line x1="1839.80" y1="603.00" x2="1839.80" y2="618.50" stroke="#000" stroke-width="3.7" />
<text x="1839.80" y="649.30" font-size="29.33" font-weight="bold" stroke="#000" stroke-width="0.45" stroke-linejoin="round" text-anchor="middle" fill="#000"  textLength="15.68" lengthAdjust="spacingAndGlyphs">6</text>
<line x1="1930.62" y1="603.00" x2="1930.62" y2="618.50" stroke="#000" stroke-width="3.7" />
<text x="1930.62" y="649.30" font-size="29.33" font-weight="bold" stroke="#000" stroke-width="0.45" stroke-linejoin="round" text-anchor="middle" fill="#000"  textLength="15.68" lengthAdjust="spacingAndGlyphs">7</text>
<text x="1658.50" y="683.80" font-size="31.93" font-weight="bold" stroke="#000" stroke-width="0.45" stroke-linejoin="round" text-anchor="middle" fill="#000"  textLength="230.27" lengthAdjust="spacingAndGlyphs">fold enrichment</text>
<text x="1308.2" y="328.8" font-size="30" font-weight="bold" stroke="#000" stroke-width="0.45" text-anchor="middle" textLength="168.5" lengthAdjust="spacingAndGlyphs" transform="rotate(-90 1308.2 328.8)">-log<tspan font-size="19" dy="5">10</tspan><tspan dy="-5">(p-val)</tspan></text>
<text x="-0.40" y="741.30" font-size="52" text-anchor="start" fill="#000" >C</text>
<text x="25.30" y="975.00" font-size="31.98" font-weight="bold" stroke="#000" stroke-width="0.45" stroke-linejoin="round" text-anchor="middle" fill="#000" transform="rotate(-90 25.30 975.00)"  textLength="384.51" lengthAdjust="spacingAndGlyphs">% cell death (LDH release)</text>
<line x1="330.30" y1="984.70" x2="330.30" y2="993.70" stroke="#000" stroke-width="1.8" />
<line x1="320.55" y1="984.70" x2="340.05" y2="984.70" stroke="#000" stroke-width="1.8" />
<line x1="391.40" y1="994.40" x2="391.40" y2="1005.00" stroke="#000" stroke-width="1.8" />
<line x1="381.65" y1="994.40" x2="401.15" y2="994.40" stroke="#000" stroke-width="1.8" />
<line x1="503.40" y1="890.00" x2="503.40" y2="900.80" stroke="#000" stroke-width="1.8" />
<line x1="493.65" y1="890.00" x2="513.15" y2="890.00" stroke="#000" stroke-width="1.8" />
<line x1="564.50" y1="908.80" x2="564.50" y2="912.60" stroke="#000" stroke-width="1.8" />
<line x1="554.75" y1="908.80" x2="574.25" y2="908.80" stroke="#000" stroke-width="1.8" />
<line x1="676.20" y1="1085.70" x2="676.20" y2="1092.20" stroke="#000" stroke-width="1.8" />
<line x1="666.45" y1="1085.70" x2="685.95" y2="1085.70" stroke="#000" stroke-width="1.8" />
<line x1="737.50" y1="1090.70" x2="737.50" y2="1095.20" stroke="#000" stroke-width="1.8" />
<line x1="727.75" y1="1090.70" x2="747.25" y2="1090.70" stroke="#000" stroke-width="1.8" />
<line x1="849.30" y1="835.80" x2="849.30" y2="841.30" stroke="#000" stroke-width="1.8" />
<line x1="839.55" y1="835.80" x2="859.05" y2="835.80" stroke="#000" stroke-width="1.8" />
<line x1="910.70" y1="833.80" x2="910.70" y2="841.30" stroke="#000" stroke-width="1.8" />
<line x1="900.95" y1="833.80" x2="920.45" y2="833.80" stroke="#000" stroke-width="1.8" />
<rect x="311.85" y="995.50" width="36.90" height="151.30" fill="#a1a1a5" stroke="#000" stroke-width="3.6" />
<rect x="372.95" y="1006.80" width="36.90" height="140.00" fill="#616262" stroke="#000" stroke-width="3.6" />
<rect x="484.95" y="902.60" width="36.90" height="244.20" fill="#a1a1a5" stroke="#000" stroke-width="3.6" />
<rect x="546.05" y="914.40" width="36.90" height="232.40" fill="#616262" stroke="#000" stroke-width="3.6" />
<rect x="657.75" y="1094.00" width="36.90" height="52.80" fill="#a1a1a5" stroke="#000" stroke-width="3.6" />
<rect x="719.05" y="1097.00" width="36.90" height="49.80" fill="#616262" stroke="#000" stroke-width="3.6" />
<rect x="830.85" y="843.10" width="36.90" height="303.70" fill="#a1a1a5" stroke="#000" stroke-width="3.6" />
<rect x="892.25" y="843.10" width="36.90" height="303.70" fill="#616262" stroke="#000" stroke-width="3.6" />
<rect x="136.00" y="1143.50" width="42.00" height="3.00" fill="#000" stroke="none" stroke-width="0" />
<rect x="198.00" y="1142.60" width="42.00" height="4.00" fill="#000" stroke="none" stroke-width="0" />
<line x1="110.10" y1="789.00" x2="110.10" y2="1164.00" stroke="#000" stroke-width="3.8" />
<line x1="93.00" y1="1146.80" x2="974.00" y2="1146.80" stroke="#000" stroke-width="4" />
<line x1="93.00" y1="1146.80" x2="110.10" y2="1146.80" stroke="#000" stroke-width="4" />
<text x="89.60" y="1157.20" font-size="28.81" font-weight="bold" stroke="#000" stroke-width="0.45" stroke-linejoin="round" text-anchor="end" fill="#000"  textLength="15.41" lengthAdjust="spacingAndGlyphs">0</text>
<line x1="93.00" y1="998.90" x2="110.10" y2="998.90" stroke="#000" stroke-width="4" />
<text x="89.60" y="1009.30" font-size="28.81" font-weight="bold" stroke="#000" stroke-width="0.45" stroke-linejoin="round" text-anchor="end" fill="#000"  textLength="30.81" lengthAdjust="spacingAndGlyphs">50</text>
<line x1="93.00" y1="851.00" x2="110.10" y2="851.00" stroke="#000" stroke-width="4" />
<text x="89.60" y="861.40" font-size="28.81" font-weight="bold" stroke="#000" stroke-width="0.45" stroke-linejoin="round" text-anchor="end" fill="#000"  textLength="46.22" lengthAdjust="spacingAndGlyphs">100</text>
<line x1="154.10" y1="1146.80" x2="154.10" y2="1162.00" stroke="#000" stroke-width="4" />
<line x1="220.80" y1="1146.80" x2="220.80" y2="1162.00" stroke="#000" stroke-width="4" />
<line x1="327.50" y1="1146.80" x2="327.50" y2="1162.00" stroke="#000" stroke-width="4" />
<line x1="393.60" y1="1146.80" x2="393.60" y2="1162.00" stroke="#000" stroke-width="4" />
<line x1="500.00" y1="1146.80" x2="500.00" y2="1162.00" stroke="#000" stroke-width="4" />
<line x1="567.00" y1="1146.80" x2="567.00" y2="1162.00" stroke="#000" stroke-width="4" />
<line x1="673.10" y1="1146.80" x2="673.10" y2="1162.00" stroke="#000" stroke-width="4" />
<line x1="739.60" y1="1146.80" x2="739.60" y2="1162.00" stroke="#000" stroke-width="4" />
<line x1="846.40" y1="1146.80" x2="846.40" y2="1162.00" stroke="#000" stroke-width="4" />
<line x1="912.70" y1="1146.80" x2="912.70" y2="1162.00" stroke="#000" stroke-width="4" />
<text x="186.50" y="1193.00" font-size="28.39" font-weight="bold" stroke="#000" stroke-width="0.45" stroke-linejoin="round" text-anchor="middle" fill="#000"  textLength="124.38" lengthAdjust="spacingAndGlyphs">untreated</text>
<text x="360.00" y="1193.00" font-size="28.39" font-weight="bold" stroke="#000" stroke-width="0.45" stroke-linejoin="round" text-anchor="middle" fill="#000"  textLength="113.77" lengthAdjust="spacingAndGlyphs">nigericin</text>
<text x="531.50" y="1193.00" font-size="28.39" font-weight="bold" stroke="#000" stroke-width="0.45" stroke-linejoin="round" text-anchor="middle" fill="#000"  textLength="86.42" lengthAdjust="spacingAndGlyphs">pdAdT</text>
<text x="706.50" y="1193.00" font-size="28.39" font-weight="bold" stroke="#000" stroke-width="0.45" stroke-linejoin="round" text-anchor="middle" fill="#000"  textLength="98.60" lengthAdjust="spacingAndGlyphs">UCN-01</text>
<text x="880.5" y="1193" font-size="28.94" font-weight="bold" stroke="#000" stroke-width="0.45" text-anchor="middle" textLength="161.3" lengthAdjust="spacingAndGlyphs">SPI-1<tspan font-size="18.5" dy="5.5">ON</tspan><tspan dy="-5.5"> </tspan><tspan font-style="italic">S</tspan>Tm</text>
<polygon points="138.04999999999998,781.85 174.35,781.85 138.04999999999998,798.6" fill="#f0a04b"/>
<polygon points="174.35,781.85 174.35,798.6 138.04999999999998,798.6" fill="#a1a1a5"/>
<line x1="138.05" y1="798.60" x2="174.35" y2="781.85" stroke="#000" stroke-width="2.1" />
<rect x="138.05" y="781.85" width="36.30" height="16.75" fill="none" stroke="#000" stroke-width="2.9" />
<polygon points="138.04999999999998,832.0500000000001 174.35,832.0500000000001 138.04999999999998,848.85" fill="#f8601a"/>
<polygon points="174.35,832.0500000000001 174.35,848.85 138.04999999999998,848.85" fill="#616262"/>
<line x1="138.05" y1="848.85" x2="174.35" y2="832.05" stroke="#000" stroke-width="2.1" />
<rect x="138.05" y="832.05" width="36.30" height="16.80" fill="none" stroke="#000" stroke-width="2.9" />
<text x="182.00" y="797.50" font-size="30.3" text-anchor="start" fill="#000" >uninfected</text>
<text x="182.00" y="848.00" font-size="30.3" text-anchor="start" fill="#000" >mAdV3</text>
<g fill="#c0c0c0" ><circle cx="324.5" cy="902.5" r="3.5"/><circle cx="330.7" cy="903.9" r="3.5"/><circle cx="336.5" cy="903.9" r="3.5"/><circle cx="324.5" cy="908.9" r="3.5"/><circle cx="330.7" cy="908.9" r="3.5"/><circle cx="336.5" cy="908.9" r="3.5"/><circle cx="330.2" cy="922.8" r="3.5"/><circle cx="330.2" cy="929.6" r="3.5"/><circle cx="330.2" cy="934.1" r="3.5"/><circle cx="330.2" cy="938.4" r="3.5"/><circle cx="323.9" cy="944.0" r="3.5"/><circle cx="336.5" cy="944.0" r="3.5"/><circle cx="330.2" cy="947.9" r="3.5"/><circle cx="330.2" cy="953.8" r="3.5"/><circle cx="323.9" cy="956.9" r="3.5"/><circle cx="330.2" cy="959.6" r="3.5"/><circle cx="332.5" cy="968.6" r="3.5"/><circle cx="327.2" cy="969.5" r="3.5"/><circle cx="330.2" cy="1021.6" r="3.5"/><circle cx="324.5" cy="1025.2" r="3.5"/><circle cx="335.2" cy="1027.9" r="3.5"/><circle cx="311.9" cy="1032.7" r="3.5"/><circle cx="317.8" cy="1033.6" r="3.5"/><circle cx="323.6" cy="1031.5" r="3.5"/><circle cx="330.2" cy="1029.7" r="3.5"/><circle cx="337.0" cy="1031.5" r="3.5"/><circle cx="343.3" cy="1033.3" r="3.5"/><circle cx="348.7" cy="1033.6" r="3.5"/><circle cx="327.2" cy="1036.8" r="3.5"/><circle cx="333.4" cy="1036.8" r="3.5"/><circle cx="323.6" cy="1040.4" r="3.5"/><circle cx="330.2" cy="1041.3" r="3.5"/><circle cx="337.0" cy="1040.4" r="3.5"/><circle cx="324.5" cy="1044.9" r="3.5"/><circle cx="334.3" cy="1045.8" r="3.5"/><circle cx="330.2" cy="1053.9" r="3.5"/><circle cx="330.2" cy="1060.6" r="3.5"/><circle cx="330.2" cy="1069.5" r="3.5"/><circle cx="330.2" cy="1086.3" r="3.5"/><circle cx="391.5" cy="880.2" r="3.5"/><circle cx="391.5" cy="885.0" r="3.5"/><circle cx="391.5" cy="895.8" r="3.5"/><circle cx="391.5" cy="918.3" r="3.5"/><circle cx="385.5" cy="922.4" r="3.5"/><circle cx="397.6" cy="920.6" r="3.5"/><circle cx="391.5" cy="932.3" r="3.5"/><circle cx="391.5" cy="944.0" r="3.5"/><circle cx="385.5" cy="949.2" r="3.5"/><circle cx="397.6" cy="948.3" r="3.5"/><circle cx="391.5" cy="953.3" r="3.5"/><circle cx="373.0" cy="956.0" r="3.5"/><circle cx="373.9" cy="959.6" r="3.5"/><circle cx="404.4" cy="957.8" r="3.5"/><circle cx="409.8" cy="959.6" r="3.5"/><circle cx="391.5" cy="957.8" r="3.5"/><circle cx="391.5" cy="1003.6" r="3.5"/><circle cx="391.5" cy="1008.1" r="3.5"/><circle cx="391.5" cy="1012.6" r="3.5"/><circle cx="391.5" cy="1017.4" r="3.5"/><circle cx="391.5" cy="1025.2" r="3.5"/><circle cx="384.6" cy="1046.7" r="3.5"/><circle cx="385.5" cy="1052.1" r="3.5"/><circle cx="391.5" cy="1052.1" r="3.5"/><circle cx="397.6" cy="1049.4" r="3.5"/><circle cx="379.3" cy="1064.3" r="3.5"/><circle cx="385.5" cy="1069.2" r="3.5"/><circle cx="391.5" cy="1062.9" r="3.5"/><circle cx="397.6" cy="1060.2" r="3.5"/><circle cx="403.5" cy="1065.6" r="3.5"/><circle cx="388.2" cy="1065.6" r="3.5"/><circle cx="395.4" cy="1067.4" r="3.5"/><circle cx="385.5" cy="1072.8" r="3.5"/><circle cx="391.5" cy="1073.7" r="3.5"/><circle cx="397.6" cy="1071.0" r="3.5"/><circle cx="391.5" cy="1082.7" r="3.5"/><circle cx="397.2" cy="1079.1" r="3.5"/><circle cx="391.5" cy="1093.4" r="3.5"/><circle cx="391.5" cy="1116.4" r="3.5"/><circle cx="138.1" cy="1145.9" r="3.5"/><circle cx="141.4" cy="1147.0" r="3.5"/><circle cx="144.6" cy="1145.9" r="3.5"/><circle cx="147.9" cy="1147.0" r="3.5"/><circle cx="151.1" cy="1145.9" r="3.5"/><circle cx="154.3" cy="1147.0" r="3.5"/><circle cx="157.6" cy="1145.9" r="3.5"/><circle cx="160.8" cy="1147.0" r="3.5"/><circle cx="164.0" cy="1145.9" r="3.5"/><circle cx="167.3" cy="1147.0" r="3.5"/><circle cx="170.5" cy="1145.9" r="3.5"/><circle cx="173.7" cy="1147.0" r="3.5"/><circle cx="177.0" cy="1145.9" r="3.5"/><circle cx="143.9" cy="1143.2" r="3.5"/><circle cx="149.3" cy="1142.5" r="3.5"/><circle cx="155.6" cy="1143.2" r="3.5"/><circle cx="161.9" cy="1140.3" r="3.5"/><circle cx="167.3" cy="1142.1" r="3.5"/><circle cx="169.9" cy="1140.0" r="3.5"/><circle cx="173.5" cy="1143.2" r="3.5"/><circle cx="147.5" cy="1149.7" r="3.5"/><circle cx="152.9" cy="1151.1" r="3.5"/><circle cx="159.2" cy="1150.8" r="3.5"/><circle cx="164.6" cy="1149.7" r="3.5"/><circle cx="169.9" cy="1150.0" r="3.5"/><circle cx="142.1" cy="1149.0" r="3.5"/><circle cx="174.4" cy="1149.3" r="3.5"/><circle cx="199.2" cy="1146.3" r="3.5"/><circle cx="202.5" cy="1147.3" r="3.5"/><circle cx="205.7" cy="1146.3" r="3.5"/><circle cx="208.9" cy="1147.3" r="3.5"/><circle cx="212.2" cy="1146.3" r="3.5"/><circle cx="215.4" cy="1147.3" r="3.5"/><circle cx="218.6" cy="1146.3" r="3.5"/><circle cx="221.9" cy="1147.3" r="3.5"/><circle cx="225.1" cy="1146.3" r="3.5"/><circle cx="228.3" cy="1147.3" r="3.5"/><circle cx="231.6" cy="1146.3" r="3.5"/><circle cx="234.8" cy="1147.3" r="3.5"/><circle cx="238.0" cy="1146.3" r="3.5"/><circle cx="214.0" cy="1137.1" r="3.5"/><circle cx="221.2" cy="1136.7" r="3.5"/><circle cx="217.9" cy="1141.4" r="3.5"/><circle cx="223.0" cy="1142.0" r="3.5"/><circle cx="212.2" cy="1142.8" r="3.5"/><circle cx="206.8" cy="1143.7" r="3.5"/><circle cx="228.3" cy="1143.7" r="3.5"/><circle cx="233.7" cy="1144.6" r="3.5"/><circle cx="206.8" cy="1150.4" r="3.5"/><circle cx="212.2" cy="1153.3" r="3.5"/><circle cx="218.5" cy="1155.4" r="3.5"/><circle cx="223.8" cy="1154.5" r="3.5"/><circle cx="215.8" cy="1158.3" r="3.5"/><circle cx="221.2" cy="1151.1" r="3.5"/><circle cx="228.3" cy="1150.4" r="3.5"/><circle cx="222.1" cy="1157.6" r="3.5"/><circle cx="203.2" cy="1149.1" r="3.5"/><circle cx="233.7" cy="1149.7" r="3.5"/><circle cx="503.3" cy="870.8" r="3.5"/><circle cx="503.3" cy="882.6" r="3.5"/><circle cx="492.0" cy="898.1" r="3.5"/><circle cx="503.3" cy="896.3" r="3.5"/><circle cx="492.0" cy="902.6" r="3.5"/><circle cx="500.0" cy="902.6" r="3.5"/><circle cx="507.5" cy="902.6" r="3.5"/><circle cx="514.5" cy="902.6" r="3.5"/><circle cx="492.0" cy="910.1" r="3.5"/><circle cx="500.0" cy="910.1" r="3.5"/><circle cx="507.5" cy="910.1" r="3.5"/><circle cx="514.5" cy="910.1" r="3.5"/><circle cx="492.0" cy="916.8" r="3.5"/><circle cx="500.0" cy="916.8" r="3.5"/><circle cx="507.5" cy="916.8" r="3.5"/><circle cx="514.5" cy="916.8" r="3.5"/><circle cx="492.0" cy="923.8" r="3.5"/><circle cx="500.0" cy="923.8" r="3.5"/><circle cx="507.5" cy="923.8" r="3.5"/><circle cx="514.5" cy="923.8" r="3.5"/><circle cx="492.0" cy="930.8" r="3.5"/><circle cx="500.0" cy="930.8" r="3.5"/><circle cx="507.5" cy="930.8" r="3.5"/><circle cx="514.5" cy="930.8" r="3.5"/><circle cx="557.5" cy="888.1" r="3.5"/><circle cx="564.6" cy="887.1" r="3.5"/><circle cx="572.1" cy="883.3" r="3.5"/><circle cx="572.1" cy="888.8" r="3.5"/><circle cx="564.6" cy="893.8" r="3.5"/><circle cx="568.1" cy="897.1" r="3.5"/><circle cx="561.3" cy="898.8" r="3.5"/><circle cx="568.1" cy="902.6" r="3.5"/><circle cx="560.8" cy="906.3" r="3.5"/><circle cx="564.6" cy="910.1" r="3.5"/><circle cx="557.5" cy="913.8" r="3.5"/><circle cx="564.6" cy="916.3" r="3.5"/><circle cx="557.5" cy="917.6" r="3.5"/><circle cx="550.0" cy="925.1" r="3.5"/><circle cx="557.5" cy="924.6" r="3.5"/><circle cx="564.6" cy="921.3" r="3.5"/><circle cx="572.1" cy="925.1" r="3.5"/><circle cx="579.6" cy="928.3" r="3.5"/><circle cx="564.6" cy="930.1" r="3.5"/><circle cx="568.1" cy="933.1" r="3.5"/><circle cx="560.8" cy="936.3" r="3.5"/><circle cx="670.1" cy="1047.6" r="3.5"/><circle cx="676.4" cy="1045.9" r="3.5"/><circle cx="683.9" cy="1045.1" r="3.5"/><circle cx="676.4" cy="1050.9" r="3.5"/><circle cx="661.4" cy="1084.7" r="3.5"/><circle cx="668.9" cy="1083.9" r="3.5"/><circle cx="676.4" cy="1087.7" r="3.5"/><circle cx="683.9" cy="1083.4" r="3.5"/><circle cx="661.4" cy="1087.7" r="3.5"/><circle cx="668.9" cy="1091.4" r="3.5"/><circle cx="683.9" cy="1090.2" r="3.5"/><circle cx="691.4" cy="1088.2" r="3.5"/><circle cx="676.4" cy="1094.7" r="3.5"/><circle cx="672.6" cy="1118.9" r="3.5"/><circle cx="680.1" cy="1118.9" r="3.5"/><circle cx="668.9" cy="1123.9" r="3.5"/><circle cx="676.4" cy="1127.7" r="3.5"/><circle cx="683.9" cy="1126.4" r="3.5"/><circle cx="676.4" cy="1133.9" r="3.5"/><circle cx="732.6" cy="1062.1" r="3.5"/><circle cx="737.1" cy="1067.6" r="3.5"/><circle cx="718.9" cy="1090.9" r="3.5"/><circle cx="726.4" cy="1093.9" r="3.5"/><circle cx="733.9" cy="1092.7" r="3.5"/><circle cx="741.4" cy="1092.7" r="3.5"/><circle cx="748.9" cy="1094.7" r="3.5"/><circle cx="756.4" cy="1090.9" r="3.5"/><circle cx="737.6" cy="1097.7" r="3.5"/><circle cx="730.1" cy="1102.7" r="3.5"/><circle cx="737.6" cy="1102.7" r="3.5"/><circle cx="743.9" cy="1102.7" r="3.5"/><circle cx="731.4" cy="1107.7" r="3.5"/><circle cx="737.6" cy="1110.7" r="3.5"/><circle cx="737.6" cy="1117.7" r="3.5"/><circle cx="741.4" cy="1122.2" r="3.5"/><circle cx="734.4" cy="1125.2" r="3.5"/><circle cx="849.4" cy="799.5" r="3.5"/><circle cx="856.4" cy="806.3" r="3.5"/><circle cx="849.4" cy="810.0" r="3.5"/><circle cx="849.4" cy="817.5" r="3.5"/><circle cx="849.4" cy="825.5" r="3.5"/><circle cx="849.4" cy="839.5" r="3.5"/><circle cx="856.4" cy="838.8" r="3.5"/><circle cx="835.2" cy="847.5" r="3.5"/><circle cx="841.9" cy="845.5" r="3.5"/><circle cx="849.4" cy="843.8" r="3.5"/><circle cx="856.4" cy="846.3" r="3.5"/><circle cx="864.0" cy="848.0" r="3.5"/><circle cx="841.9" cy="850.5" r="3.5"/><circle cx="841.9" cy="863.0" r="3.5"/><circle cx="849.4" cy="867.5" r="3.5"/><circle cx="856.4" cy="865.5" r="3.5"/><circle cx="849.4" cy="879.3" r="3.5"/><circle cx="911.0" cy="810.0" r="3.5"/><circle cx="911.0" cy="821.3" r="3.5"/><circle cx="911.0" cy="831.3" r="3.5"/><circle cx="911.0" cy="838.0" r="3.5"/><circle cx="903.5" cy="846.3" r="3.5"/><circle cx="911.0" cy="844.5" r="3.5"/><circle cx="918.2" cy="845.5" r="3.5"/><circle cx="903.5" cy="850.5" r="3.5"/><circle cx="918.2" cy="849.5" r="3.5"/><circle cx="911.0" cy="854.3" r="3.5"/><circle cx="911.0" cy="871.3" r="3.5"/><circle cx="907.0" cy="875.8" r="3.5"/><circle cx="914.5" cy="875.0" r="3.5"/></g>
<text x="187.50" y="1127.60" font-size="20.4" text-anchor="middle" fill="#000" >p = 0.103</text>
<text x="360.60" y="973.00" font-size="20.4" text-anchor="middle" fill="#000" >p = 0.410</text>
<text x="533.80" y="875.80" font-size="20.4" text-anchor="middle" fill="#000" >p = 0.278</text>
<text x="707.00" y="1070.90" font-size="20.4" text-anchor="middle" fill="#000" >p = 0.676</text>
<text x="880.00" y="820.80" font-size="20.4" text-anchor="middle" fill="#000" >p = 0.965</text>
<text x="1005.50" y="741.00" font-size="52" text-anchor="start" fill="#000" >D</text>
<text x="1031.50" y="960.50" font-size="31.93" font-weight="bold" stroke="#000" stroke-width="0.45" stroke-linejoin="round" text-anchor="middle" fill="#000" transform="rotate(-90 1031.50 960.50)"  textLength="184.17" lengthAdjust="spacingAndGlyphs">IL-1ß (pg/ml)</text>
<line x1="1352.40" y1="885.80" x2="1352.40" y2="902.00" stroke="#000" stroke-width="1.8" />
<line x1="1342.65" y1="885.80" x2="1362.15" y2="885.80" stroke="#000" stroke-width="1.8" />
<line x1="1413.70" y1="941.30" x2="1413.70" y2="961.40" stroke="#000" stroke-width="1.8" />
<line x1="1403.95" y1="941.30" x2="1423.45" y2="941.30" stroke="#000" stroke-width="1.8" />
<line x1="1525.50" y1="883.00" x2="1525.50" y2="907.60" stroke="#000" stroke-width="1.8" />
<line x1="1515.75" y1="883.00" x2="1535.25" y2="883.00" stroke="#000" stroke-width="1.8" />
<line x1="1586.70" y1="963.10" x2="1586.70" y2="981.40" stroke="#000" stroke-width="1.8" />
<line x1="1576.95" y1="963.10" x2="1596.45" y2="963.10" stroke="#000" stroke-width="1.8" />
<line x1="1698.40" y1="1099.00" x2="1698.40" y2="1106.00" stroke="#000" stroke-width="1.8" />
<line x1="1688.65" y1="1099.00" x2="1708.15" y2="1099.00" stroke="#000" stroke-width="1.8" />
<line x1="1759.40" y1="1114.40" x2="1759.40" y2="1120.00" stroke="#000" stroke-width="1.8" />
<line x1="1749.65" y1="1114.40" x2="1769.15" y2="1114.40" stroke="#000" stroke-width="1.8" />
<line x1="1871.60" y1="795.80" x2="1871.60" y2="802.00" stroke="#000" stroke-width="1.8" />
<line x1="1861.85" y1="795.80" x2="1881.35" y2="795.80" stroke="#000" stroke-width="1.8" />
<line x1="1932.80" y1="789.30" x2="1932.80" y2="797.20" stroke="#000" stroke-width="1.8" />
<line x1="1923.05" y1="789.30" x2="1942.55" y2="789.30" stroke="#000" stroke-width="1.8" />
<rect x="1333.95" y="903.80" width="36.90" height="243.50" fill="#f0a04b" stroke="#000" stroke-width="3.6" />
<rect x="1395.25" y="963.20" width="36.90" height="184.10" fill="#f8601a" stroke="#000" stroke-width="3.6" />
<rect x="1507.05" y="909.40" width="36.90" height="237.90" fill="#f0a04b" stroke="#000" stroke-width="3.6" />
<rect x="1568.25" y="983.20" width="36.90" height="164.10" fill="#f8601a" stroke="#000" stroke-width="3.6" />
<rect x="1679.95" y="1107.80" width="36.90" height="39.50" fill="#f0a04b" stroke="#000" stroke-width="3.6" />
<rect x="1740.95" y="1121.80" width="36.90" height="25.50" fill="#f8601a" stroke="#000" stroke-width="3.6" />
<rect x="1853.15" y="803.80" width="36.90" height="343.50" fill="#a1a1a5" stroke="#000" stroke-width="3.6" />
<rect x="1914.35" y="799.00" width="36.90" height="348.30" fill="#616262" stroke="#000" stroke-width="3.6" />
<rect x="1845.00" y="828.00" width="115.00" height="28.70" fill="#fff" stroke="none" stroke-width="0" />
<line x1="1131.80" y1="775.20" x2="1131.80" y2="827.50" stroke="#000" stroke-width="4" />
<line x1="1131.80" y1="849.00" x2="1131.80" y2="1149.30" stroke="#000" stroke-width="4" />
<line x1="1124.50" y1="821.30" x2="1141.30" y2="839.50" stroke="#000" stroke-width="3.6" />
<line x1="1124.50" y1="845.00" x2="1141.30" y2="862.50" stroke="#000" stroke-width="3.6" />
<line x1="1116.70" y1="1147.30" x2="1995.00" y2="1147.30" stroke="#000" stroke-width="4" />
<line x1="1115.20" y1="1147.30" x2="1131.80" y2="1147.30" stroke="#000" stroke-width="4" />
<text x="1112.30" y="1157.50" font-size="28.81" font-weight="bold" stroke="#000" stroke-width="0.45" stroke-linejoin="round" text-anchor="end" fill="#000"  textLength="15.41" lengthAdjust="spacingAndGlyphs">0</text>
<line x1="1115.20" y1="1089.27" x2="1131.80" y2="1089.27" stroke="#000" stroke-width="4" />
<text x="1112.30" y="1099.47" font-size="28.81" font-weight="bold" stroke="#000" stroke-width="0.45" stroke-linejoin="round" text-anchor="end" fill="#000"  textLength="46.22" lengthAdjust="spacingAndGlyphs">500</text>
<line x1="1115.20" y1="1031.24" x2="1131.80" y2="1031.24" stroke="#000" stroke-width="4" />
<text x="1112.30" y="1041.44" font-size="28.81" font-weight="bold" stroke="#000" stroke-width="0.45" stroke-linejoin="round" text-anchor="end" fill="#000"  textLength="61.62" lengthAdjust="spacingAndGlyphs">1000</text>
<line x1="1115.20" y1="973.21" x2="1131.80" y2="973.21" stroke="#000" stroke-width="4" />
<text x="1112.30" y="983.41" font-size="28.81" font-weight="bold" stroke="#000" stroke-width="0.45" stroke-linejoin="round" text-anchor="end" fill="#000"  textLength="61.62" lengthAdjust="spacingAndGlyphs">1500</text>
<line x1="1115.20" y1="915.18" x2="1131.80" y2="915.18" stroke="#000" stroke-width="4" />
<text x="1112.30" y="925.38" font-size="28.81" font-weight="bold" stroke="#000" stroke-width="0.45" stroke-linejoin="round" text-anchor="end" fill="#000"  textLength="61.62" lengthAdjust="spacingAndGlyphs">2000</text>
<text x="1112.30" y="868.90" font-size="28.81" font-weight="bold" stroke="#000" stroke-width="0.45" stroke-linejoin="round" text-anchor="end" fill="#000"  textLength="61.62" lengthAdjust="spacingAndGlyphs">2500</text>
<text x="1112.30" y="839.30" font-size="28.81" font-weight="bold" stroke="#000" stroke-width="0.45" stroke-linejoin="round" text-anchor="end" fill="#000"  textLength="61.62" lengthAdjust="spacingAndGlyphs">3000</text>
<line x1="1116.70" y1="777.00" x2="1131.80" y2="777.00" stroke="#000" stroke-width="4" />
<text x="1112.30" y="788.30" font-size="28.81" font-weight="bold" stroke="#000" stroke-width="0.45" stroke-linejoin="round" text-anchor="end" fill="#000"  textLength="61.62" lengthAdjust="spacingAndGlyphs">5000</text>
<line x1="1176.30" y1="1147.30" x2="1176.30" y2="1162.50" stroke="#000" stroke-width="4" />
<line x1="1242.60" y1="1147.30" x2="1242.60" y2="1162.50" stroke="#000" stroke-width="4" />
<line x1="1348.90" y1="1147.30" x2="1348.90" y2="1162.50" stroke="#000" stroke-width="4" />
<line x1="1415.70" y1="1147.30" x2="1415.70" y2="1162.50" stroke="#000" stroke-width="4" />
<line x1="1522.70" y1="1147.30" x2="1522.70" y2="1162.50" stroke="#000" stroke-width="4" />
<line x1="1589.30" y1="1147.30" x2="1589.30" y2="1162.50" stroke="#000" stroke-width="4" />
<line x1="1695.60" y1="1147.30" x2="1695.60" y2="1162.50" stroke="#000" stroke-width="4" />
<line x1="1762.40" y1="1147.30" x2="1762.40" y2="1162.50" stroke="#000" stroke-width="4" />
<line x1="1868.80" y1="1147.30" x2="1868.80" y2="1162.50" stroke="#000" stroke-width="4" />
<line x1="1935.30" y1="1147.30" x2="1935.30" y2="1162.50" stroke="#000" stroke-width="4" />
<text x="1208.50" y="1193.00" font-size="28.39" font-weight="bold" stroke="#000" stroke-width="0.45" stroke-linejoin="round" text-anchor="middle" fill="#000"  textLength="124.38" lengthAdjust="spacingAndGlyphs">untreated</text>
<text x="1382.00" y="1193.00" font-size="28.39" font-weight="bold" stroke="#000" stroke-width="0.45" stroke-linejoin="round" text-anchor="middle" fill="#000"  textLength="113.77" lengthAdjust="spacingAndGlyphs">nigericin</text>
<text x="1553.50" y="1193.00" font-size="28.39" font-weight="bold" stroke="#000" stroke-width="0.45" stroke-linejoin="round" text-anchor="middle" fill="#000"  textLength="86.42" lengthAdjust="spacingAndGlyphs">pdAdT</text>
<text x="1728.50" y="1193.00" font-size="28.39" font-weight="bold" stroke="#000" stroke-width="0.45" stroke-linejoin="round" text-anchor="middle" fill="#000"  textLength="98.60" lengthAdjust="spacingAndGlyphs">UCN-01</text>
<text x="1902.5" y="1193" font-size="28.94" font-weight="bold" stroke="#000" stroke-width="0.45" text-anchor="middle" textLength="161.3" lengthAdjust="spacingAndGlyphs">SPI-1<tspan font-size="18.5" dy="5.5">ON</tspan><tspan dy="-5.5"> </tspan><tspan font-style="italic">S</tspan>Tm</text>
<polygon points="1160.25,781.85 1196.55,781.85 1160.25,798.6" fill="#f0a04b"/>
<polygon points="1196.55,781.85 1196.55,798.6 1160.25,798.6" fill="#a1a1a5"/>
<line x1="1160.25" y1="798.60" x2="1196.55" y2="781.85" stroke="#000" stroke-width="2.1" />
<rect x="1160.25" y="781.85" width="36.30" height="16.75" fill="none" stroke="#000" stroke-width="2.9" />
<polygon points="1160.25,832.0500000000001 1196.55,832.0500000000001 1160.25,848.85" fill="#f8601a"/>
<polygon points="1196.55,832.0500000000001 1196.55,848.85 1160.25,848.85" fill="#616262"/>
<line x1="1160.25" y1="848.85" x2="1196.55" y2="832.05" stroke="#000" stroke-width="2.1" />
<rect x="1160.25" y="832.05" width="36.30" height="16.80" fill="none" stroke="#000" stroke-width="2.9" />
<text x="1204.00" y="797.50" font-size="30.3" text-anchor="start" fill="#000" >uninfected</text>
<text x="1204.00" y="848.00" font-size="30.3" text-anchor="start" fill="#000" >mAdV3</text>
<g fill="#f0d47f" ><circle cx="1348.4" cy="814.3" r="3.4"/><circle cx="1355.6" cy="816.3" r="3.4"/><circle cx="1344.6" cy="825.8" r="3.4"/><circle cx="1360.1" cy="822.5" r="3.4"/><circle cx="1360.1" cy="827.0" r="3.4"/><circle cx="1352.1" cy="857.5" r="3.4"/><circle cx="1352.1" cy="871.3" r="3.4"/><circle cx="1352.1" cy="885.1" r="3.4"/><circle cx="1352.1" cy="901.3" r="3.4"/><circle cx="1352.1" cy="920.1" r="3.4"/><circle cx="1360.1" cy="918.1" r="3.4"/><circle cx="1352.1" cy="938.3" r="3.4"/><circle cx="1352.1" cy="976.9" r="3.4"/><circle cx="1352.1" cy="983.1" r="3.4"/><circle cx="1352.1" cy="993.1" r="3.4"/><circle cx="1344.6" cy="998.4" r="3.4"/><circle cx="1352.1" cy="999.6" r="3.4"/><circle cx="1360.1" cy="997.6" r="3.4"/><circle cx="1344.6" cy="1018.4" r="3.4"/><circle cx="1352.1" cy="1022.6" r="3.4"/><circle cx="1360.1" cy="1018.4" r="3.4"/><circle cx="1352.1" cy="1029.6" r="3.4"/><circle cx="1352.1" cy="1046.4" r="3.4"/><circle cx="1352.1" cy="1057.6" r="3.4"/><circle cx="1413.7" cy="819.5" r="3.4"/><circle cx="1413.7" cy="824.5" r="3.4"/><circle cx="1417.2" cy="857.5" r="3.4"/><circle cx="1413.7" cy="888.3" r="3.4"/><circle cx="1413.7" cy="892.6" r="3.4"/><circle cx="1413.7" cy="898.3" r="3.4"/><circle cx="1413.7" cy="910.6" r="3.4"/><circle cx="1413.7" cy="933.3" r="3.4"/><circle cx="1410.2" cy="953.3" r="3.4"/><circle cx="1417.2" cy="955.1" r="3.4"/><circle cx="1413.7" cy="1000.1" r="3.4"/><circle cx="1413.7" cy="1043.4" r="3.4"/><circle cx="1413.7" cy="1050.6" r="3.4"/><circle cx="1421.2" cy="1048.4" r="3.4"/><circle cx="1410.2" cy="1063.4" r="3.4"/><circle cx="1417.2" cy="1063.4" r="3.4"/><circle cx="1413.7" cy="1072.7" r="3.4"/><circle cx="1421.2" cy="1071.9" r="3.4"/><circle cx="1406.4" cy="1077.7" r="3.4"/><circle cx="1413.7" cy="1077.7" r="3.4"/><circle cx="1406.4" cy="1086.4" r="3.4"/><circle cx="1413.7" cy="1085.2" r="3.4"/><circle cx="1421.2" cy="1084.7" r="3.4"/><circle cx="1421.2" cy="1087.7" r="3.4"/><circle cx="1410.2" cy="1097.7" r="3.4"/><circle cx="1417.2" cy="1096.4" r="3.4"/><circle cx="1525.2" cy="801.3" r="3.4"/><circle cx="1525.2" cy="807.0" r="3.4"/><circle cx="1525.2" cy="903.8" r="3.4"/><circle cx="1525.2" cy="909.6" r="3.4"/><circle cx="1525.2" cy="918.1" r="3.4"/><circle cx="1525.2" cy="924.6" r="3.4"/><circle cx="1525.2" cy="931.3" r="3.4"/><circle cx="1521.5" cy="939.6" r="3.4"/><circle cx="1529.0" cy="941.3" r="3.4"/><circle cx="1521.5" cy="945.1" r="3.4"/><circle cx="1529.0" cy="947.6" r="3.4"/><circle cx="1525.2" cy="953.8" r="3.4"/><circle cx="1525.2" cy="966.4" r="3.4"/><circle cx="1525.2" cy="1009.6" r="3.4"/><circle cx="1586.7" cy="820.5" r="3.4"/><circle cx="1586.7" cy="938.8" r="3.4"/><circle cx="1586.7" cy="945.6" r="3.4"/><circle cx="1583.2" cy="959.3" r="3.4"/><circle cx="1590.2" cy="959.3" r="3.4"/><circle cx="1586.7" cy="980.1" r="3.4"/><circle cx="1586.7" cy="1009.6" r="3.4"/><circle cx="1579.2" cy="1013.9" r="3.4"/><circle cx="1594.0" cy="1012.6" r="3.4"/><circle cx="1579.2" cy="1018.9" r="3.4"/><circle cx="1586.7" cy="1021.4" r="3.4"/><circle cx="1594.0" cy="1020.1" r="3.4"/><circle cx="1579.2" cy="1027.1" r="3.4"/><circle cx="1586.7" cy="1025.1" r="3.4"/><circle cx="1594.0" cy="1027.1" r="3.4"/><circle cx="1698.4" cy="1059.6" r="3.4"/><circle cx="1695.6" cy="1064.7" r="3.4"/><circle cx="1701.7" cy="1063.0" r="3.4"/><circle cx="1680.1" cy="1102.3" r="3.4"/><circle cx="1687.7" cy="1103.1" r="3.4"/><circle cx="1695.6" cy="1101.7" r="3.4"/><circle cx="1703.2" cy="1103.1" r="3.4"/><circle cx="1710.7" cy="1102.3" r="3.4"/><circle cx="1717.2" cy="1102.3" r="3.4"/><circle cx="1698.4" cy="1108.2" r="3.4"/><circle cx="1689.1" cy="1140.2" r="3.4"/><circle cx="1696.1" cy="1140.2" r="3.4"/><circle cx="1703.2" cy="1140.2" r="3.4"/><circle cx="1708.8" cy="1139.1" r="3.4"/><circle cx="1759.3" cy="1086.3" r="3.4"/><circle cx="1759.3" cy="1100.9" r="3.4"/><circle cx="1759.3" cy="1110.2" r="3.4"/><circle cx="1741.0" cy="1118.6" r="3.4"/><circle cx="1748.1" cy="1120.0" r="3.4"/><circle cx="1755.1" cy="1118.6" r="3.4"/><circle cx="1762.9" cy="1120.0" r="3.4"/><circle cx="1770.5" cy="1119.1" r="3.4"/><circle cx="1777.5" cy="1118.0" r="3.4"/><circle cx="1759.3" cy="1123.4" r="3.4"/><circle cx="1756.5" cy="1137.7" r="3.4"/><circle cx="1762.9" cy="1137.7" r="3.4"/></g>
<g fill="#c0c0c0" ><circle cx="1160.5" cy="1144.4" r="3.4"/><circle cx="1164.8" cy="1144.4" r="3.4"/><circle cx="1169.0" cy="1144.4" r="3.4"/><circle cx="1173.3" cy="1144.4" r="3.4"/><circle cx="1177.5" cy="1144.4" r="3.4"/><circle cx="1181.8" cy="1144.4" r="3.4"/><circle cx="1186.0" cy="1144.4" r="3.4"/><circle cx="1190.3" cy="1144.4" r="3.4"/><circle cx="1194.5" cy="1144.4" r="3.4"/><circle cx="1198.8" cy="1144.4" r="3.4"/><circle cx="1179.5" cy="1135.2" r="3.4"/><circle cx="1176.3" cy="1139.7" r="3.4"/><circle cx="1182.5" cy="1139.7" r="3.4"/><circle cx="1179.5" cy="1141.4" r="3.4"/><circle cx="1221.8" cy="1144.4" r="3.4"/><circle cx="1226.1" cy="1144.4" r="3.4"/><circle cx="1230.3" cy="1144.4" r="3.4"/><circle cx="1234.6" cy="1144.4" r="3.4"/><circle cx="1238.8" cy="1144.4" r="3.4"/><circle cx="1243.1" cy="1144.4" r="3.4"/><circle cx="1247.3" cy="1144.4" r="3.4"/><circle cx="1251.6" cy="1144.4" r="3.4"/><circle cx="1255.8" cy="1144.4" r="3.4"/><circle cx="1260.1" cy="1144.4" r="3.4"/><circle cx="1241.3" cy="1133.4" r="3.4"/><circle cx="1241.3" cy="1137.7" r="3.4"/><circle cx="1238.8" cy="1141.4" r="3.4"/><circle cx="1244.6" cy="1141.4" r="3.4"/><circle cx="1864.6" cy="783.2" r="3.4"/><circle cx="1878.6" cy="785.4" r="3.4"/><circle cx="1864.6" cy="788.8" r="3.4"/><circle cx="1871.6" cy="788.2" r="3.4"/><circle cx="1864.6" cy="795.8" r="3.4"/><circle cx="1871.6" cy="795.2" r="3.4"/><circle cx="1878.6" cy="800.0" r="3.4"/><circle cx="1871.6" cy="801.4" r="3.4"/><circle cx="1871.6" cy="809.3" r="3.4"/><circle cx="1878.6" cy="810.7" r="3.4"/><circle cx="1864.6" cy="818.2" r="3.4"/><circle cx="1871.6" cy="818.2" r="3.4"/><circle cx="1878.6" cy="818.2" r="3.4"/><circle cx="1864.6" cy="823.0" r="3.4"/><circle cx="1937.0" cy="784.6" r="3.4"/><circle cx="1929.1" cy="787.4" r="3.4"/><circle cx="1932.8" cy="794.4" r="3.4"/><circle cx="1924.9" cy="802.8" r="3.4"/><circle cx="1932.8" cy="804.2" r="3.4"/><circle cx="1940.3" cy="804.2" r="3.4"/><circle cx="1924.9" cy="809.8" r="3.4"/><circle cx="1940.3" cy="811.2" r="3.4"/><circle cx="1932.8" cy="808.4" r="3.4"/><circle cx="1937.0" cy="819.6" r="3.4"/><circle cx="1929.1" cy="824.4" r="3.4"/></g>
<text x="1209.70" y="1127.70" font-size="20.4" text-anchor="middle" fill="#000" >p = 0.496</text>
<text x="1382.60" y="868.80" font-size="20.4" text-anchor="middle" fill="#000" >p = 0.024</text>
<text x="1555.40" y="868.80" font-size="20.4" text-anchor="middle" fill="#000" >p = 0.019</text>
<text x="1728.80" y="1082.00" font-size="20.4" text-anchor="middle" fill="#000" >p = 0.128</text>
<text x="1902.00" y="774.70" font-size="20.4" text-anchor="middle" fill="#000" >p = 0.533</text>
<text x="-1.60" y="1268.50" font-size="52" text-anchor="start" fill="#000" textLength="32.8" lengthAdjust="spacingAndGlyphs">E</text>
<text x="126.20" y="1291.00" font-size="28.3" text-anchor="middle" fill="#000" >untreated</text>
<text x="311.80" y="1291.00" font-size="28.3" text-anchor="middle" fill="#000" >nigericin</text>
<text x="497.60" y="1291.00" font-size="28.3" text-anchor="middle" fill="#000" >pdAdT</text>
<text x="683.40" y="1291.00" font-size="28.3" text-anchor="middle" fill="#000" >UCN-01</text>
<text x="868.9" y="1291" font-size="28.3" text-anchor="middle">SPI-1<tspan font-size="18" dy="6">ON</tspan><tspan dy="-6"> </tspan><tspan font-style="italic">S</tspan>Tm</text>
<text x="23.80" y="1416.50" font-size="28.3" text-anchor="middle" fill="#000" transform="rotate(-90 23.80 1416.50)" >uninfected</text>
<text x="23.80" y="1662.00" font-size="28.3" text-anchor="middle" fill="#000" transform="rotate(-90 23.80 1662.00)" >mAdV3</text>
<defs>
<filter id="tex" x="0" y="0" width="100%" height="100%" filterUnits="objectBoundingBox" color-interpolation-filters="sRGB">
<feGaussianBlur in="SourceGraphic" stdDeviation="2.6" result="b"/>
<feTurbulence type="fractalNoise" baseFrequency="0.035" numOctaves="3" seed="21" result="lf"/>
<feDisplacementMap in="b" in2="lf" scale="24" xChannelSelector="R" yChannelSelector="G" result="d"/>
<feTurbulence type="fractalNoise" baseFrequency="0.62" numOctaves="1" seed="7" result="n"/>
<feColorMatrix in="n" type="matrix" values="0 0 0 0 1  0 0 0 0 1  0 0 0 0 1  3.6 0 0 0 -1.45" result="m"/>
<feComposite in="d" in2="m" operator="in" result="c"/>
<feComponentTransfer in="c" result="c2"><feFuncA type="linear" slope="1.55" intercept="-0.07"/></feComponentTransfer>
<feGaussianBlur in="c2" stdDeviation="0.7"/>
</filter>
<filter id="nb" x="-20%" y="-20%" width="140%" height="140%"><feGaussianBlur stdDeviation="1"/></filter>
<filter id="ndf" x="0" y="0" width="100%" height="100%" filterUnits="objectBoundingBox" color-interpolation-filters="sRGB">
<feGaussianBlur in="SourceGraphic" stdDeviation="1.3" result="b"/>
<feTurbulence type="fractalNoise" baseFrequency="0.5" numOctaves="1" seed="11" result="n"/>
<feColorMatrix in="n" type="matrix" values="0 0 0 0 1  0 0 0 0 1  0 0 0 0 1  2.4 0 0 0 -0.45" result="m"/>
<feComposite in="b" in2="m" operator="in"/>
</filter>
<filter id="nt" x="0" y="0" width="100%" height="100%" filterUnits="objectBoundingBox" color-interpolation-filters="sRGB">
<feGaussianBlur in="SourceGraphic" stdDeviation="0.6" result="b"/>
<feTurbulence type="fractalNoise" baseFrequency="0.55" numOctaves="2" seed="3" result="n"/>
<feColorMatrix in="n" type="matrix" values="0 0 0 0 1  0 0 0 0 1  0 0 0 0 1  5 0 0 0 -2.1" result="m"/>
<feComposite in="b" in2="m" operator="in"/>
</filter>
<clipPath id="cp00"><rect x="39.7" y="1300.5" width="173.0" height="231.0"/></clipPath>
<clipPath id="cp01"><rect x="39.7" y="1546.5" width="173.0" height="231.0"/></clipPath>
<clipPath id="cp10"><rect x="225.3" y="1300.5" width="173.0" height="231.0"/></clipPath>
<clipPath id="cp11"><rect x="225.3" y="1546.5" width="173.0" height="231.0"/></clipPath>
<clipPath id="cp20"><rect x="411.1" y="1300.5" width="173.0" height="231.0"/></clipPath>
<clipPath id="cp21"><rect x="411.1" y="1546.5" width="173.0" height="231.0"/></clipPath>
<clipPath id="cp30"><rect x="596.9" y="1300.5" width="173.0" height="231.0"/></clipPath>
<clipPath id="cp31"><rect x="596.9" y="1546.5" width="173.0" height="231.0"/></clipPath>
<clipPath id="cp40"><rect x="782.4" y="1300.5" width="173.0" height="231.0"/></clipPath>
<clipPath id="cp41"><rect x="782.4" y="1546.5" width="173.0" height="231.0"/></clipPath>
</defs>
<rect x="39.70" y="1300.50" width="173.00" height="231.00" fill="#000" stroke="none" stroke-width="0" />
<g clip-path="url(#cp00)">
<g filter="url(#tex)"><rect x="14.700000000000003" y="1275.5" width="223.0" height="281.0" fill="#d01818" fill-opacity="0.198"/><ellipse cx="191.2" cy="1327.3" rx="14.3" ry="18.1" fill="#c41a1a" fill-opacity="0.59" transform="rotate(0 191.2 1327.3)"/><ellipse cx="191.6" cy="1306.4" rx="5.7" ry="7.6" fill="#c41a1a" fill-opacity="0.33" transform="rotate(0 191.6 1306.4)"/><ellipse cx="125.0" cy="1344.4" rx="17.1" ry="13.3" fill="#c41a1a" fill-opacity="0.59" transform="rotate(-30 125.0 1344.4)"/><ellipse cx="109.8" cy="1359.6" rx="11.4" ry="7.6" fill="#c41a1a" fill-opacity="0.40" transform="rotate(-40 109.8 1359.6)"/><ellipse cx="75.6" cy="1365.3" rx="16.2" ry="13.3" fill="#c41a1a" fill-opacity="0.53" transform="rotate(0 75.6 1365.3)"/><ellipse cx="92.7" cy="1317.8" rx="9.5" ry="15.2" fill="#c41a1a" fill-opacity="0.26" transform="rotate(20 92.7 1317.8)"/><ellipse cx="128.8" cy="1304.5" rx="7.6" ry="4.8" fill="#c41a1a" fill-opacity="0.33" transform="rotate(0 128.8 1304.5)"/><ellipse cx="161.2" cy="1384.3" rx="8.6" ry="20.9" fill="#c41a1a" fill-opacity="0.59" transform="rotate(25 161.2 1384.3)"/><ellipse cx="154.5" cy="1395.8" rx="10.5" ry="9.5" fill="#c41a1a" fill-opacity="0.59" transform="rotate(0 154.5 1395.8)"/><ellipse cx="70.9" cy="1431.9" rx="19.0" ry="15.2" fill="#c41a1a" fill-opacity="0.53" transform="rotate(0 70.9 1431.9)"/><ellipse cx="58.5" cy="1412.9" rx="9.5" ry="11.4" fill="#c41a1a" fill-opacity="0.33" transform="rotate(0 58.5 1412.9)"/><ellipse cx="166.9" cy="1452.8" rx="13.3" ry="17.1" fill="#c41a1a" fill-opacity="0.59" transform="rotate(0 166.9 1452.8)"/><ellipse cx="191.6" cy="1445.2" rx="22.8" ry="6.7" fill="#c41a1a" fill-opacity="0.46" transform="rotate(-25 191.6 1445.2)"/><ellipse cx="144.1" cy="1494.6" rx="28.5" ry="7.6" fill="#c41a1a" fill-opacity="0.46" transform="rotate(-40 144.1 1494.6)"/><ellipse cx="98.4" cy="1466.1" rx="14.3" ry="12.4" fill="#c41a1a" fill-opacity="0.53" transform="rotate(0 98.4 1466.1)"/><ellipse cx="110.8" cy="1487.6" rx="15.2" ry="12.4" fill="#c41a1a" fill-opacity="0.53" transform="rotate(0 110.8 1487.6)"/><ellipse cx="135.1" cy="1504.1" rx="15.2" ry="12.4" fill="#c41a1a" fill-opacity="0.53" transform="rotate(0 135.1 1504.1)"/><ellipse cx="64.2" cy="1506.0" rx="17.1" ry="16.2" fill="#c41a1a" fill-opacity="0.59" transform="rotate(0 64.2 1506.0)"/><ellipse cx="117.4" cy="1517.4" rx="13.3" ry="9.5" fill="#c41a1a" fill-opacity="0.40" transform="rotate(0 117.4 1517.4)"/><ellipse cx="52.8" cy="1390.0" rx="11.4" ry="19.0" fill="#c41a1a" fill-opacity="0.23" transform="rotate(0 52.8 1390.0)"/><ellipse cx="197.3" cy="1485.1" rx="15.2" ry="28.5" fill="#c41a1a" fill-opacity="0.20" transform="rotate(0 197.3 1485.1)"/></g>
<g filter="url(#nb)" opacity="0.9"><ellipse cx="191.2" cy="1323.1" rx="5.3" ry="6.8" fill="#4169c4" transform="rotate(-15 191.2 1323.1)"/><ellipse cx="128.8" cy="1343.5" rx="5.3" ry="6.5" fill="#4169c4" transform="rotate(10 128.8 1343.5)"/><ellipse cx="75.6" cy="1366.9" rx="7.3" ry="5.3" fill="#4169c4" transform="rotate(-20 75.6 1366.9)"/><ellipse cx="154.5" cy="1396.1" rx="6.1" ry="5.3" fill="#4169c4" transform="rotate(30 154.5 1396.1)"/><ellipse cx="70.9" cy="1433.8" rx="7.3" ry="5.2" fill="#4169c4" transform="rotate(-10 70.9 1433.8)"/><ellipse cx="166.9" cy="1454.3" rx="5.3" ry="7.4" fill="#4169c4" transform="rotate(0 166.9 1454.3)"/><ellipse cx="98.4" cy="1466.7" rx="6.5" ry="5.3" fill="#4169c4" transform="rotate(30 98.4 1466.7)"/><ellipse cx="110.8" cy="1487.6" rx="6.8" ry="5.3" fill="#4169c4" transform="rotate(-20 110.8 1487.6)"/><ellipse cx="135.1" cy="1502.8" rx="6.8" ry="5.3" fill="#4169c4" transform="rotate(-25 135.1 1502.8)"/><ellipse cx="64.2" cy="1504.7" rx="6.5" ry="6.0" fill="#4169c4" transform="rotate(0 64.2 1504.7)"/></g>
<g filter="url(#nt)" opacity="0.5"><rect x="39.7" y="1300.5" width="173.0" height="231.0" fill="none"/><ellipse cx="191.2" cy="1323.1" rx="5.3" ry="6.8" fill="#d83c78" transform="rotate(-15 191.2 1323.1)"/><ellipse cx="128.8" cy="1343.5" rx="5.3" ry="6.5" fill="#d83c78" transform="rotate(10 128.8 1343.5)"/><ellipse cx="75.6" cy="1366.9" rx="7.3" ry="5.3" fill="#d83c78" transform="rotate(-20 75.6 1366.9)"/><ellipse cx="154.5" cy="1396.1" rx="6.1" ry="5.3" fill="#d83c78" transform="rotate(30 154.5 1396.1)"/><ellipse cx="70.9" cy="1433.8" rx="7.3" ry="5.2" fill="#d83c78" transform="rotate(-10 70.9 1433.8)"/><ellipse cx="166.9" cy="1454.3" rx="5.3" ry="7.4" fill="#d83c78" transform="rotate(0 166.9 1454.3)"/><ellipse cx="98.4" cy="1466.7" rx="6.5" ry="5.3" fill="#d83c78" transform="rotate(30 98.4 1466.7)"/><ellipse cx="110.8" cy="1487.6" rx="6.8" ry="5.3" fill="#d83c78" transform="rotate(-20 110.8 1487.6)"/><ellipse cx="135.1" cy="1502.8" rx="6.8" ry="5.3" fill="#d83c78" transform="rotate(-25 135.1 1502.8)"/><ellipse cx="64.2" cy="1504.7" rx="6.5" ry="6.0" fill="#d83c78" transform="rotate(0 64.2 1504.7)"/></g>
</g>
<rect x="225.30" y="1300.50" width="173.00" height="231.00" fill="#000" stroke="none" stroke-width="0" />
<g clip-path="url(#cp10)">
<g filter="url(#tex)"><rect x="200.3" y="1275.5" width="223.0" height="281.0" fill="#d01818" fill-opacity="0.090"/><ellipse cx="372.2" cy="1494.6" rx="20.9" ry="7.6" fill="#c41a1a" fill-opacity="0.30" transform="rotate(-5 372.2 1494.6)"/><ellipse cx="352.2" cy="1492.1" rx="8.6" ry="8.6" fill="#c41a1a" fill-opacity="0.33" transform="rotate(0 352.2 1492.1)"/><ellipse cx="246.1" cy="1414.8" rx="9.5" ry="9.5" fill="#c41a1a" fill-opacity="0.23" transform="rotate(0 246.1 1414.8)"/><ellipse cx="250.5" cy="1519.9" rx="9.5" ry="9.5" fill="#c41a1a" fill-opacity="0.20" transform="rotate(0 250.5 1519.9)"/></g>
<g filter="url(#ndf)" opacity="0.85"><rect x="225.3" y="1300.5" width="173.0" height="231.0" fill="none"/><ellipse cx="372.2" cy="1322.0" rx="4.4" ry="4.2" fill="#22507e" transform="rotate(0 372.2 1322.0)"/></g>
<g filter="url(#nb)" opacity="0.9"><ellipse cx="279.6" cy="1307.7" rx="4.8" ry="4.8" fill="#4b9be6" transform="rotate(0 279.6 1307.7)"/><ellipse cx="268.6" cy="1315.9" rx="5.1" ry="4.8" fill="#4b9be6" transform="rotate(0 268.6 1315.9)"/><ellipse cx="233.4" cy="1363.8" rx="5.7" ry="5.7" fill="#4b9be6" transform="rotate(0 233.4 1363.8)"/><ellipse cx="328.5" cy="1388.1" rx="4.2" ry="4.2" fill="#4b9be6" transform="rotate(0 328.5 1388.1)"/><ellipse cx="246.1" cy="1414.8" rx="5.9" ry="5.9" fill="#4a86cc" transform="rotate(0 246.1 1414.8)"/><ellipse cx="315.1" cy="1427.1" rx="4.6" ry="4.6" fill="#4b9be6" transform="rotate(0 315.1 1427.1)"/><ellipse cx="391.8" cy="1420.1" rx="4.4" ry="4.4" fill="#4b9be6" transform="rotate(0 391.8 1420.1)"/><ellipse cx="274.7" cy="1455.3" rx="4.2" ry="4.6" fill="#4a86cc" transform="rotate(0 274.7 1455.3)"/><ellipse cx="354.5" cy="1453.3" rx="4.6" ry="4.6" fill="#4b9be6" transform="rotate(0 354.5 1453.3)"/><ellipse cx="293.7" cy="1495.6" rx="4.9" ry="4.9" fill="#4b9be6" transform="rotate(0 293.7 1495.6)"/><ellipse cx="352.2" cy="1492.1" rx="5.0" ry="5.0" fill="#4169c4" transform="rotate(0 352.2 1492.1)"/><ellipse cx="250.5" cy="1519.9" rx="5.7" ry="5.7" fill="#4a86cc" transform="rotate(0 250.5 1519.9)"/></g>
<g filter="url(#nt)" opacity="0.5"><rect x="225.3" y="1300.5" width="173.0" height="231.0" fill="none"/><ellipse cx="352.2" cy="1492.1" rx="5.0" ry="5.0" fill="#d83c78" transform="rotate(0 352.2 1492.1)"/></g>
<g fill="#ff2a2a"><circle cx="267.2" cy="1309.8" r="1.55"/><circle cx="366.9" cy="1330.2" r="1.55"/><circle cx="304.7" cy="1417.6" r="1.55"/><circle cx="305.6" cy="1420.1" r="1.55"/><circle cx="388.3" cy="1415.7" r="1.55"/><circle cx="355.1" cy="1447.1" r="1.55"/><circle cx="269.9" cy="1460.8" r="1.55"/></g>
<g fill="#fff"><path d="M258.1,1313.6 Q247.3,1312.6 235.4,1314.3 Q242.4,1317.1 245.8,1319.2 Q245.2,1323.1 242.6,1330.3 Q251.8,1322.5 258.1,1313.6Z"/><path d="M360.8,1330.7 Q351.1,1325.7 339.4,1322.9 Q344.9,1328.1 347.3,1331.3 Q345.2,1334.7 340.2,1340.4 Q351.6,1336.6 360.8,1330.7Z"/><path d="M299.0,1414.8 Q295.4,1404.5 288.9,1394.4 Q289.3,1401.9 288.8,1405.9 Q285.0,1407.0 277.4,1407.6 Q288.3,1412.6 299.0,1414.8Z"/><path d="M384.0,1409.1 Q382.6,1398.3 378.2,1387.0 Q377.1,1394.5 375.8,1398.3 Q371.8,1398.6 364.3,1397.6 Q373.9,1404.8 384.0,1409.1Z"/><path d="M354.1,1437.6 Q359.5,1428.1 362.9,1416.6 Q357.4,1421.9 354.1,1424.1 Q350.8,1421.9 345.4,1416.6 Q348.7,1428.1 354.1,1437.6Z"/><path d="M262.3,1465.5 Q251.5,1466.9 240.3,1471.2 Q247.8,1472.3 251.5,1473.6 Q251.8,1477.6 250.8,1485.1 Q258.0,1475.5 262.3,1465.5Z"/></g>
</g>
<rect x="411.10" y="1300.50" width="173.00" height="231.00" fill="#000" stroke="none" stroke-width="0" />
<g clip-path="url(#cp20)">
<g filter="url(#tex)"><rect x="386.1" y="1275.5" width="223.0" height="281.0" fill="#d01818" fill-opacity="0.180"/><ellipse cx="445.6" cy="1361.5" rx="22.8" ry="15.2" fill="#c41a1a" fill-opacity="0.66" transform="rotate(10 445.6 1361.5)"/><ellipse cx="455.1" cy="1401.5" rx="13.3" ry="11.4" fill="#c41a1a" fill-opacity="0.46" transform="rotate(0 455.1 1401.5)"/><ellipse cx="508.4" cy="1407.2" rx="15.2" ry="14.3" fill="#c41a1a" fill-opacity="0.46" transform="rotate(0 508.4 1407.2)"/><ellipse cx="536.9" cy="1420.5" rx="16.2" ry="12.4" fill="#c41a1a" fill-opacity="0.46" transform="rotate(0 536.9 1420.5)"/><ellipse cx="477.9" cy="1458.5" rx="19.0" ry="20.9" fill="#c41a1a" fill-opacity="0.56" transform="rotate(0 477.9 1458.5)"/><ellipse cx="438.0" cy="1506.0" rx="22.8" ry="19.0" fill="#c41a1a" fill-opacity="0.56" transform="rotate(0 438.0 1506.0)"/><ellipse cx="580.6" cy="1333.0" rx="5.7" ry="15.2" fill="#c41a1a" fill-opacity="0.26" transform="rotate(0 580.6 1333.0)"/><ellipse cx="466.5" cy="1418.6" rx="7.6" ry="15.2" fill="#c41a1a" fill-opacity="0.33" transform="rotate(-20 466.5 1418.6)"/><ellipse cx="419.0" cy="1384.3" rx="11.4" ry="11.4" fill="#c41a1a" fill-opacity="0.26" transform="rotate(0 419.0 1384.3)"/><ellipse cx="533.1" cy="1380.5" rx="28.5" ry="19.0" fill="#c41a1a" fill-opacity="0.17" transform="rotate(0 533.1 1380.5)"/></g>
<g filter="url(#nb)" opacity="0.9"><ellipse cx="428.5" cy="1319.7" rx="4.2" ry="4.2" fill="#4b9be6" transform="rotate(0 428.5 1319.7)"/><ellipse cx="439.3" cy="1362.5" rx="6.1" ry="5.8" fill="#4169c4" transform="rotate(0 439.3 1362.5)"/><ellipse cx="455.1" cy="1400.5" rx="5.2" ry="5.2" fill="#4169c4" transform="rotate(0 455.1 1400.5)"/><ellipse cx="480.8" cy="1389.1" rx="3.6" ry="4.0" fill="#4b9be6" transform="rotate(0 480.8 1389.1)"/><ellipse cx="508.4" cy="1405.3" rx="5.7" ry="5.8" fill="#4169c4" transform="rotate(20 508.4 1405.3)"/><ellipse cx="538.4" cy="1420.8" rx="6.8" ry="5.2" fill="#4169c4" transform="rotate(-15 538.4 1420.8)"/><ellipse cx="441.4" cy="1449.9" rx="4.2" ry="4.2" fill="#4b9be6" transform="rotate(0 441.4 1449.9)"/><ellipse cx="477.9" cy="1451.4" rx="5.8" ry="5.8" fill="#4169c4" transform="rotate(0 477.9 1451.4)"/><ellipse cx="555.5" cy="1456.2" rx="4.2" ry="4.2" fill="#4a86cc" transform="rotate(0 555.5 1456.2)"/><ellipse cx="441.4" cy="1506.0" rx="6.1" ry="6.1" fill="#4169c4" transform="rotate(0 441.4 1506.0)"/></g>
<g filter="url(#nt)" opacity="0.5"><rect x="411.1" y="1300.5" width="173.0" height="231.0" fill="none"/><ellipse cx="439.3" cy="1362.5" rx="6.1" ry="5.8" fill="#d83c78" transform="rotate(0 439.3 1362.5)"/><ellipse cx="455.1" cy="1400.5" rx="5.2" ry="5.2" fill="#d83c78" transform="rotate(0 455.1 1400.5)"/><ellipse cx="508.4" cy="1405.3" rx="5.7" ry="5.8" fill="#d83c78" transform="rotate(20 508.4 1405.3)"/><ellipse cx="538.4" cy="1420.8" rx="6.8" ry="5.2" fill="#d83c78" transform="rotate(-15 538.4 1420.8)"/><ellipse cx="477.9" cy="1451.4" rx="5.8" ry="5.8" fill="#d83c78" transform="rotate(0 477.9 1451.4)"/><ellipse cx="441.4" cy="1506.0" rx="6.1" ry="6.1" fill="#d83c78" transform="rotate(0 441.4 1506.0)"/></g>
<g fill="#ff2a2a"><circle cx="445.1" cy="1335.9" r="1.55"/><circle cx="483.6" cy="1402.0" r="1.55"/><circle cx="556.8" cy="1446.5" r="1.55"/><circle cx="432.7" cy="1454.1" r="1.55"/></g>
<g fill="#fff"><path d="M454.2,1336.4 Q463.4,1342.2 474.9,1345.9 Q469.8,1340.3 467.7,1336.9 Q470.0,1333.7 475.5,1328.4 Q463.8,1331.3 454.2,1336.4Z"/><path d="M483.6,1411.3 Q478.2,1420.8 474.9,1432.3 Q480.3,1427.0 483.6,1424.8 Q487.0,1427.0 492.4,1432.3 Q489.1,1420.8 483.6,1411.3Z"/><path d="M431.4,1446.1 Q436.8,1436.7 440.1,1425.1 Q434.7,1430.4 431.4,1432.6 Q428.0,1430.4 422.6,1425.1 Q425.9,1436.7 431.4,1446.1Z"/><path d="M558.7,1438.5 Q566.7,1431.0 573.2,1421.0 Q566.5,1424.5 562.6,1425.6 Q560.1,1422.5 556.4,1415.9 Q556.3,1427.9 558.7,1438.5Z"/></g>
</g>
<rect x="596.90" y="1300.50" width="173.00" height="231.00" fill="#000" stroke="none" stroke-width="0" />
<g clip-path="url(#cp30)">
<g filter="url(#tex)"><rect x="571.9" y="1275.5" width="223.0" height="281.0" fill="#d01818" fill-opacity="0.270"/><ellipse cx="621.5" cy="1314.0" rx="15.2" ry="15.2" fill="#c41a1a" fill-opacity="0.46" transform="rotate(0 621.5 1314.0)"/><ellipse cx="612.9" cy="1338.7" rx="17.1" ry="9.5" fill="#c41a1a" fill-opacity="0.46" transform="rotate(-20 612.9 1338.7)"/><ellipse cx="661.4" cy="1326.4" rx="13.3" ry="9.5" fill="#c41a1a" fill-opacity="0.40" transform="rotate(0 661.4 1326.4)"/><ellipse cx="751.7" cy="1357.7" rx="20.9" ry="24.7" fill="#c41a1a" fill-opacity="0.53" transform="rotate(0 751.7 1357.7)"/><ellipse cx="742.2" cy="1401.5" rx="24.7" ry="38.0" fill="#c41a1a" fill-opacity="0.49" transform="rotate(0 742.2 1401.5)"/><ellipse cx="690.8" cy="1393.8" rx="20.9" ry="17.1" fill="#c41a1a" fill-opacity="0.46" transform="rotate(0 690.8 1393.8)"/><ellipse cx="704.2" cy="1428.1" rx="28.5" ry="22.8" fill="#c41a1a" fill-opacity="0.40" transform="rotate(0 704.2 1428.1)"/><ellipse cx="613.3" cy="1403.0" rx="9.5" ry="13.3" fill="#c41a1a" fill-opacity="0.40" transform="rotate(0 613.3 1403.0)"/><ellipse cx="609.1" cy="1439.5" rx="13.3" ry="28.5" fill="#c41a1a" fill-opacity="0.40" transform="rotate(0 609.1 1439.5)"/><ellipse cx="629.6" cy="1449.0" rx="15.2" ry="15.2" fill="#c41a1a" fill-opacity="0.53" transform="rotate(0 629.6 1449.0)"/><ellipse cx="678.5" cy="1433.8" rx="13.3" ry="13.3" fill="#c41a1a" fill-opacity="0.46" transform="rotate(0 678.5 1433.8)"/><ellipse cx="635.7" cy="1471.8" rx="11.4" ry="17.1" fill="#c41a1a" fill-opacity="0.40" transform="rotate(-20 635.7 1471.8)"/><ellipse cx="752.6" cy="1466.1" rx="17.1" ry="13.3" fill="#c41a1a" fill-opacity="0.66" transform="rotate(0 752.6 1466.1)"/><ellipse cx="747.9" cy="1428.1" rx="11.4" ry="13.3" fill="#c41a1a" fill-opacity="0.46" transform="rotate(0 747.9 1428.1)"/><ellipse cx="713.7" cy="1333.0" rx="22.8" ry="19.0" fill="#c41a1a" fill-opacity="0.33" transform="rotate(0 713.7 1333.0)"/><ellipse cx="656.6" cy="1409.1" rx="19.0" ry="28.5" fill="#c41a1a" fill-opacity="0.26" transform="rotate(0 656.6 1409.1)"/><ellipse cx="637.6" cy="1361.5" rx="24.7" ry="20.9" fill="#000" fill-opacity="0.8"/><ellipse cx="704.2" cy="1513.6" rx="47.5" ry="17.1" fill="#000" fill-opacity="0.8"/><ellipse cx="618.6" cy="1504.1" rx="11.4" ry="15.2" fill="#000" fill-opacity="0.8"/></g>
<g filter="url(#ndf)" opacity="0.85"><rect x="596.9" y="1300.5" width="173.0" height="231.0" fill="none"/><ellipse cx="609.1" cy="1485.1" rx="4.8" ry="5.3" fill="#22507e" transform="rotate(0 609.1 1485.1)"/></g>
<g filter="url(#nb)" opacity="0.9"><ellipse cx="621.5" cy="1310.2" rx="5.7" ry="5.7" fill="#4169c4" transform="rotate(0 621.5 1310.2)"/><ellipse cx="661.4" cy="1326.4" rx="6.5" ry="5.2" fill="#4169c4" transform="rotate(0 661.4 1326.4)"/><ellipse cx="751.7" cy="1352.6" rx="6.8" ry="6.8" fill="#4169c4" transform="rotate(0 751.7 1352.6)"/><ellipse cx="698.5" cy="1358.7" rx="4.8" ry="4.8" fill="#4b9be6" transform="rotate(0 698.5 1358.7)"/><ellipse cx="690.8" cy="1390.0" rx="6.8" ry="5.2" fill="#4169c4" transform="rotate(0 690.8 1390.0)"/><ellipse cx="613.3" cy="1403.0" rx="4.0" ry="6.5" fill="#4169c4" transform="rotate(0 613.3 1403.0)"/><ellipse cx="720.9" cy="1411.5" rx="5.7" ry="4.4" fill="#4169c4" transform="rotate(-20 720.9 1411.5)"/><ellipse cx="747.9" cy="1427.7" rx="4.8" ry="6.5" fill="#4169c4" transform="rotate(10 747.9 1427.7)"/><ellipse cx="678.5" cy="1433.8" rx="4.5" ry="5.7" fill="#4169c4" transform="rotate(10 678.5 1433.8)"/><ellipse cx="629.6" cy="1449.0" rx="6.9" ry="7.3" fill="#4169c4" transform="rotate(0 629.6 1449.0)"/><ellipse cx="669.9" cy="1467.0" rx="4.8" ry="4.8" fill="#4b9be6" transform="rotate(0 669.9 1467.0)"/><ellipse cx="752.6" cy="1468.0" rx="4.0" ry="4.8" fill="#4169c4" transform="rotate(10 752.6 1468.0)"/><ellipse cx="708.9" cy="1486.0" rx="4.8" ry="4.8" fill="#4b9be6" transform="rotate(0 708.9 1486.0)"/><ellipse cx="722.6" cy="1490.8" rx="4.8" ry="4.8" fill="#4b9be6" transform="rotate(0 722.6 1490.8)"/><ellipse cx="634.2" cy="1517.4" rx="4.8" ry="4.8" fill="#4b9be6" transform="rotate(0 634.2 1517.4)"/></g>
<g filter="url(#nt)" opacity="0.5"><rect x="596.9" y="1300.5" width="173.0" height="231.0" fill="none"/><ellipse cx="621.5" cy="1310.2" rx="5.7" ry="5.7" fill="#d83c78" transform="rotate(0 621.5 1310.2)"/><ellipse cx="661.4" cy="1326.4" rx="6.5" ry="5.2" fill="#d83c78" transform="rotate(0 661.4 1326.4)"/><ellipse cx="751.7" cy="1352.6" rx="6.8" ry="6.8" fill="#d83c78" transform="rotate(0 751.7 1352.6)"/><ellipse cx="690.8" cy="1390.0" rx="6.8" ry="5.2" fill="#d83c78" transform="rotate(0 690.8 1390.0)"/><ellipse cx="613.3" cy="1403.0" rx="4.0" ry="6.5" fill="#d83c78" transform="rotate(0 613.3 1403.0)"/><ellipse cx="720.9" cy="1411.5" rx="5.7" ry="4.4" fill="#d83c78" transform="rotate(-20 720.9 1411.5)"/><ellipse cx="747.9" cy="1427.7" rx="4.8" ry="6.5" fill="#d83c78" transform="rotate(10 747.9 1427.7)"/><ellipse cx="678.5" cy="1433.8" rx="4.5" ry="5.7" fill="#d83c78" transform="rotate(10 678.5 1433.8)"/><ellipse cx="629.6" cy="1449.0" rx="6.9" ry="7.3" fill="#d83c78" transform="rotate(0 629.6 1449.0)"/><ellipse cx="752.6" cy="1468.0" rx="4.0" ry="4.8" fill="#d83c78" transform="rotate(10 752.6 1468.0)"/></g>
<g fill="#ff2a2a"><circle cx="726.6" cy="1334.9" r="1.55"/><circle cx="736.1" cy="1345.4" r="1.55"/><circle cx="674.7" cy="1455.6" r="1.55"/><circle cx="715.6" cy="1488.5" r="1.55"/><circle cx="631.3" cy="1521.2" r="1.55"/><circle cx="699.4" cy="1372.6" r="1.55"/></g>
<g fill="#fff"><path d="M722.2,1330.7 Q717.4,1321.0 709.7,1311.7 Q711.1,1319.2 711.0,1323.2 Q707.3,1324.7 699.9,1326.3 Q711.3,1330.0 722.2,1330.7Z"/><path d="M738.0,1339.1 Q746.1,1331.8 752.8,1321.9 Q746.0,1325.2 742.2,1326.3 Q739.7,1323.1 736.2,1316.4 Q735.8,1328.4 738.0,1339.1Z"/><path d="M668.6,1453.2 Q661.1,1445.2 651.1,1438.7 Q654.6,1445.4 655.7,1449.2 Q652.6,1451.8 646.0,1455.4 Q658.0,1455.6 668.6,1453.2Z"/><path d="M713.7,1497.5 Q708.3,1507.0 705.1,1518.5 Q710.5,1513.2 713.8,1511.0 Q717.1,1513.1 722.6,1518.4 Q719.2,1506.8 713.7,1497.5Z"/><path d="M625.3,1520.3 Q617.7,1512.5 607.5,1506.1 Q611.1,1512.8 612.3,1516.6 Q609.3,1519.2 602.7,1522.9 Q614.7,1522.9 625.3,1520.3Z"/></g>
</g>
<rect x="782.40" y="1300.50" width="173.00" height="231.00" fill="#000" stroke="none" stroke-width="0" />
<g clip-path="url(#cp40)">
<g filter="url(#tex)"><rect x="757.4" y="1275.5" width="223.0" height="281.0" fill="#d01818" fill-opacity="0.072"/><ellipse cx="947.4" cy="1385.3" rx="8.6" ry="8.6" fill="#c41a1a" fill-opacity="0.33" transform="rotate(0 947.4 1385.3)"/></g>
<g filter="url(#ndf)" opacity="0.85"><rect x="782.4" y="1300.5" width="173.0" height="231.0" fill="none"/><ellipse cx="784.8" cy="1321.6" rx="4.9" ry="4.9" fill="#22507e" transform="rotate(0 784.8 1321.6)"/><ellipse cx="842.4" cy="1333.0" rx="4.9" ry="4.9" fill="#22507e" transform="rotate(0 842.4 1333.0)"/><ellipse cx="887.5" cy="1331.1" rx="4.9" ry="4.9" fill="#22507e" transform="rotate(0 887.5 1331.1)"/><ellipse cx="903.7" cy="1331.1" rx="4.9" ry="4.9" fill="#22507e" transform="rotate(0 903.7 1331.1)"/><ellipse cx="948.9" cy="1326.4" rx="4.9" ry="4.9" fill="#22507e" transform="rotate(0 948.9 1326.4)"/><ellipse cx="783.9" cy="1355.8" rx="4.9" ry="4.9" fill="#22507e" transform="rotate(0 783.9 1355.8)"/><ellipse cx="795.3" cy="1366.3" rx="4.9" ry="4.9" fill="#22507e" transform="rotate(0 795.3 1366.3)"/><ellipse cx="866.2" cy="1378.6" rx="4.9" ry="4.9" fill="#22507e" transform="rotate(0 866.2 1378.6)"/><ellipse cx="947.4" cy="1385.3" rx="4.9" ry="4.9" fill="#22507e" transform="rotate(0 947.4 1385.3)"/><ellipse cx="824.8" cy="1405.3" rx="4.9" ry="4.9" fill="#22507e" transform="rotate(0 824.8 1405.3)"/><ellipse cx="945.5" cy="1420.5" rx="4.9" ry="4.9" fill="#22507e" transform="rotate(0 945.5 1420.5)"/><ellipse cx="807.3" cy="1447.6" rx="4.9" ry="4.9" fill="#22507e" transform="rotate(0 807.3 1447.6)"/><ellipse cx="840.5" cy="1452.8" rx="4.9" ry="4.9" fill="#22507e" transform="rotate(0 840.5 1452.8)"/><ellipse cx="869.4" cy="1451.3" rx="4.9" ry="4.9" fill="#22507e" transform="rotate(0 869.4 1451.3)"/><ellipse cx="821.5" cy="1462.3" rx="4.9" ry="4.9" fill="#22507e" transform="rotate(0 821.5 1462.3)"/><ellipse cx="912.2" cy="1457.2" rx="4.9" ry="4.9" fill="#22507e" transform="rotate(0 912.2 1457.2)"/><ellipse cx="910.3" cy="1467.6" rx="4.9" ry="4.9" fill="#22507e" transform="rotate(0 910.3 1467.6)"/><ellipse cx="883.7" cy="1484.7" rx="4.9" ry="4.9" fill="#22507e" transform="rotate(0 883.7 1484.7)"/><ellipse cx="836.2" cy="1487.6" rx="4.9" ry="4.9" fill="#22507e" transform="rotate(0 836.2 1487.6)"/><ellipse cx="935.0" cy="1485.1" rx="4.9" ry="4.9" fill="#22507e" transform="rotate(0 935.0 1485.1)"/><ellipse cx="948.9" cy="1494.2" rx="4.9" ry="4.9" fill="#22507e" transform="rotate(0 948.9 1494.2)"/><ellipse cx="921.1" cy="1506.0" rx="4.9" ry="4.9" fill="#22507e" transform="rotate(0 921.1 1506.0)"/><ellipse cx="810.5" cy="1513.6" rx="4.9" ry="4.9" fill="#22507e" transform="rotate(0 810.5 1513.6)"/><ellipse cx="847.6" cy="1515.5" rx="4.9" ry="4.9" fill="#22507e" transform="rotate(0 847.6 1515.5)"/><ellipse cx="917.0" cy="1520.3" rx="4.9" ry="4.9" fill="#22507e" transform="rotate(0 917.0 1520.3)"/><ellipse cx="939.8" cy="1520.3" rx="4.9" ry="4.9" fill="#22507e" transform="rotate(0 939.8 1520.3)"/><ellipse cx="783.9" cy="1520.3" rx="4.9" ry="4.9" fill="#22507e" transform="rotate(0 783.9 1520.3)"/><ellipse cx="886.5" cy="1530.7" rx="4.9" ry="4.9" fill="#22507e" transform="rotate(0 886.5 1530.7)"/><ellipse cx="922.7" cy="1337.8" rx="6.3" ry="6.3" fill="#22507e" transform="rotate(0 922.7 1337.8)"/><ellipse cx="829.5" cy="1370.1" rx="7.2" ry="6.8" fill="#22507e" transform="rotate(0 829.5 1370.1)"/><ellipse cx="900.8" cy="1397.7" rx="6.1" ry="6.5" fill="#22507e" transform="rotate(0 900.8 1397.7)"/></g>
<g filter="url(#nb)" opacity="0.9"></g>
<g fill="#ff2a2a"><circle cx="831.0" cy="1362.5" r="1.55"/><circle cx="812.8" cy="1396.1" r="1.55"/><circle cx="886.2" cy="1407.5" r="1.55"/><circle cx="943.2" cy="1404.7" r="1.55"/><circle cx="840.0" cy="1444.6" r="1.55"/><circle cx="810.5" cy="1457.2" r="1.55"/><circle cx="861.3" cy="1475.0" r="1.55"/><circle cx="890.0" cy="1469.5" r="1.55"/><circle cx="917.0" cy="1510.4" r="1.55"/><circle cx="945.1" cy="1514.6" r="1.55"/></g>
<g fill="#fff"><path d="M827.6,1357.4 Q827.9,1346.5 825.4,1334.7 Q823.1,1341.9 821.2,1345.5 Q817.3,1345.1 810.0,1343.0 Q818.4,1351.6 827.6,1357.4Z"/><path d="M818.7,1396.3 Q828.1,1401.8 839.6,1405.3 Q834.4,1399.8 832.2,1396.5 Q834.4,1393.1 839.8,1387.8 Q828.2,1391.0 818.7,1396.3Z"/><path d="M880.5,1411.0 Q869.7,1412.7 858.7,1417.5 Q866.2,1418.3 870.0,1419.5 Q870.4,1423.5 869.7,1431.0 Q876.6,1421.1 880.5,1411.0Z"/><path d="M936.9,1409.1 Q926.2,1411.0 915.2,1415.8 Q922.8,1416.6 926.6,1417.7 Q927.0,1421.7 926.4,1429.2 Q933.2,1419.3 936.9,1409.1Z"/><path d="M834.8,1441.8 Q830.2,1431.9 822.6,1422.6 Q823.9,1430.1 823.8,1434.0 Q820.1,1435.5 812.6,1436.9 Q824.0,1440.8 834.8,1441.8Z"/><path d="M809.9,1466.7 Q804.6,1476.1 801.3,1487.7 Q806.7,1482.4 810.0,1480.2 Q813.3,1482.3 818.8,1487.6 Q815.4,1476.1 809.9,1466.7Z"/><path d="M866.0,1473.3 Q876.9,1474.2 888.7,1472.2 Q881.6,1469.6 878.2,1467.5 Q878.8,1463.6 881.3,1456.4 Q872.2,1464.4 866.0,1473.3Z"/><path d="M910.3,1510.8 Q900.8,1505.4 889.2,1502.2 Q894.6,1507.6 896.8,1510.9 Q894.6,1514.2 889.4,1519.7 Q900.9,1516.3 910.3,1510.8Z"/><path d="M940.7,1509.4 Q938.2,1498.8 932.6,1488.2 Q932.3,1495.7 931.4,1499.6 Q927.5,1500.3 919.9,1500.2 Q930.3,1506.3 940.7,1509.4Z"/></g>
</g>
<rect x="39.70" y="1546.50" width="173.00" height="231.00" fill="#000" stroke="none" stroke-width="0" />
<g clip-path="url(#cp01)">
<g filter="url(#tex)"><rect x="14.700000000000003" y="1521.5" width="223.0" height="281.0" fill="#d01818" fill-opacity="0.180"/><ellipse cx="88.9" cy="1568.5" rx="11.4" ry="17.1" fill="#c41a1a" fill-opacity="0.59" transform="rotate(10 88.9 1568.5)"/><ellipse cx="73.7" cy="1589.4" rx="5.7" ry="13.3" fill="#c41a1a" fill-opacity="0.33" transform="rotate(-30 73.7 1589.4)"/><ellipse cx="183.0" cy="1578.0" rx="13.3" ry="12.4" fill="#c41a1a" fill-opacity="0.59" transform="rotate(0 183.0 1578.0)"/><ellipse cx="168.8" cy="1604.6" rx="4.8" ry="22.8" fill="#c41a1a" fill-opacity="0.53" transform="rotate(25 168.8 1604.6)"/><ellipse cx="132.7" cy="1595.1" rx="17.1" ry="11.4" fill="#c41a1a" fill-opacity="0.53" transform="rotate(20 132.7 1595.1)"/><ellipse cx="100.3" cy="1621.7" rx="11.4" ry="13.3" fill="#c41a1a" fill-opacity="0.59" transform="rotate(0 100.3 1621.7)"/><ellipse cx="106.0" cy="1606.5" rx="4.8" ry="9.5" fill="#c41a1a" fill-opacity="0.40" transform="rotate(10 106.0 1606.5)"/><ellipse cx="62.3" cy="1669.3" rx="19.0" ry="17.1" fill="#c41a1a" fill-opacity="0.53" transform="rotate(0 62.3 1669.3)"/><ellipse cx="68.0" cy="1688.3" rx="7.6" ry="11.4" fill="#c41a1a" fill-opacity="0.33" transform="rotate(30 68.0 1688.3)"/><ellipse cx="121.2" cy="1690.2" rx="16.2" ry="15.2" fill="#c41a1a" fill-opacity="0.59" transform="rotate(0 121.2 1690.2)"/><ellipse cx="142.2" cy="1709.2" rx="14.3" ry="15.2" fill="#c41a1a" fill-opacity="0.53" transform="rotate(0 142.2 1709.2)"/><ellipse cx="178.3" cy="1705.4" rx="17.1" ry="19.0" fill="#c41a1a" fill-opacity="0.56" transform="rotate(0 178.3 1705.4)"/><ellipse cx="43.3" cy="1711.1" rx="11.4" ry="15.2" fill="#c41a1a" fill-opacity="0.46" transform="rotate(0 43.3 1711.1)"/><ellipse cx="103.2" cy="1760.5" rx="13.3" ry="15.2" fill="#c41a1a" fill-opacity="0.53" transform="rotate(0 103.2 1760.5)"/><ellipse cx="178.3" cy="1766.2" rx="15.2" ry="11.4" fill="#c41a1a" fill-opacity="0.46" transform="rotate(0 178.3 1766.2)"/><ellipse cx="58.5" cy="1739.6" rx="19.0" ry="19.0" fill="#c41a1a" fill-opacity="0.26" transform="rotate(0 58.5 1739.6)"/><ellipse cx="128.8" cy="1730.1" rx="15.2" ry="11.4" fill="#c41a1a" fill-opacity="0.33" transform="rotate(-30 128.8 1730.1)"/><ellipse cx="92.7" cy="1587.5" rx="5.7" ry="19.0" fill="#c41a1a" fill-opacity="0.26" transform="rotate(-20 92.7 1587.5)"/></g>
<g filter="url(#nb)" opacity="0.9"><ellipse cx="45.2" cy="1548.0" rx="3.2" ry="2.6" fill="#4169c4" transform="rotate(0 45.2 1548.0)"/><ellipse cx="88.9" cy="1565.7" rx="4.5" ry="6.8" fill="#4169c4" transform="rotate(15 88.9 1565.7)"/><ellipse cx="183.0" cy="1574.6" rx="6.1" ry="6.0" fill="#4169c4" transform="rotate(0 183.0 1574.6)"/><ellipse cx="128.8" cy="1588.9" rx="6.9" ry="4.7" fill="#4169c4" transform="rotate(-10 128.8 1588.9)"/><ellipse cx="99.4" cy="1626.5" rx="5.7" ry="6.1" fill="#4169c4" transform="rotate(0 99.4 1626.5)"/><ellipse cx="143.1" cy="1654.6" rx="5.7" ry="5.7" fill="#4b9be6" transform="rotate(0 143.1 1654.6)"/><ellipse cx="59.5" cy="1668.7" rx="6.5" ry="6.5" fill="#4169c4" transform="rotate(0 59.5 1668.7)"/><ellipse cx="121.2" cy="1691.1" rx="6.5" ry="6.5" fill="#4169c4" transform="rotate(0 121.2 1691.1)"/><ellipse cx="143.1" cy="1708.2" rx="5.3" ry="6.5" fill="#4169c4" transform="rotate(25 143.1 1708.2)"/><ellipse cx="180.2" cy="1703.1" rx="5.3" ry="7.8" fill="#4169c4" transform="rotate(-10 180.2 1703.1)"/><ellipse cx="43.7" cy="1712.0" rx="4.5" ry="7.3" fill="#4169c4" transform="rotate(0 43.7 1712.0)"/><ellipse cx="103.2" cy="1760.5" rx="4.8" ry="6.1" fill="#4169c4" transform="rotate(15 103.2 1760.5)"/><ellipse cx="184.9" cy="1775.7" rx="4.0" ry="3.2" fill="#4169c4" transform="rotate(0 184.9 1775.7)"/></g>
<g filter="url(#nt)" opacity="0.5"><rect x="39.7" y="1546.5" width="173.0" height="231.0" fill="none"/><ellipse cx="45.2" cy="1548.0" rx="3.2" ry="2.6" fill="#d83c78" transform="rotate(0 45.2 1548.0)"/><ellipse cx="88.9" cy="1565.7" rx="4.5" ry="6.8" fill="#d83c78" transform="rotate(15 88.9 1565.7)"/><ellipse cx="183.0" cy="1574.6" rx="6.1" ry="6.0" fill="#d83c78" transform="rotate(0 183.0 1574.6)"/><ellipse cx="128.8" cy="1588.9" rx="6.9" ry="4.7" fill="#d83c78" transform="rotate(-10 128.8 1588.9)"/><ellipse cx="99.4" cy="1626.5" rx="5.7" ry="6.1" fill="#d83c78" transform="rotate(0 99.4 1626.5)"/><ellipse cx="59.5" cy="1668.7" rx="6.5" ry="6.5" fill="#d83c78" transform="rotate(0 59.5 1668.7)"/><ellipse cx="121.2" cy="1691.1" rx="6.5" ry="6.5" fill="#d83c78" transform="rotate(0 121.2 1691.1)"/><ellipse cx="143.1" cy="1708.2" rx="5.3" ry="6.5" fill="#d83c78" transform="rotate(25 143.1 1708.2)"/><ellipse cx="180.2" cy="1703.1" rx="5.3" ry="7.8" fill="#d83c78" transform="rotate(-10 180.2 1703.1)"/><ellipse cx="43.7" cy="1712.0" rx="4.5" ry="7.3" fill="#d83c78" transform="rotate(0 43.7 1712.0)"/><ellipse cx="103.2" cy="1760.5" rx="4.8" ry="6.1" fill="#d83c78" transform="rotate(15 103.2 1760.5)"/><ellipse cx="184.9" cy="1775.7" rx="4.0" ry="3.2" fill="#d83c78" transform="rotate(0 184.9 1775.7)"/></g>
</g>
<rect x="225.30" y="1546.50" width="173.00" height="231.00" fill="#000" stroke="none" stroke-width="0" />
<g clip-path="url(#cp11)">
<g filter="url(#tex)"><rect x="200.3" y="1521.5" width="223.0" height="281.0" fill="#d01818" fill-opacity="0.108"/><ellipse cx="341.8" cy="1628.8" rx="11.4" ry="11.4" fill="#c41a1a" fill-opacity="0.26" transform="rotate(0 341.8 1628.8)"/><ellipse cx="353.2" cy="1724.4" rx="11.4" ry="11.4" fill="#c41a1a" fill-opacity="0.30" transform="rotate(0 353.2 1724.4)"/><ellipse cx="334.2" cy="1654.1" rx="28.5" ry="19.0" fill="#c41a1a" fill-opacity="0.10" transform="rotate(0 334.2 1654.1)"/><ellipse cx="362.7" cy="1711.1" rx="22.8" ry="19.0" fill="#c41a1a" fill-opacity="0.13" transform="rotate(0 362.7 1711.1)"/></g>
<g filter="url(#nb)" opacity="0.9"><ellipse cx="252.4" cy="1575.7" rx="5.1" ry="4.9" fill="#4b9be6" transform="rotate(0 252.4 1575.7)"/><ellipse cx="290.1" cy="1572.3" rx="4.8" ry="4.8" fill="#4b9be6" transform="rotate(0 290.1 1572.3)"/><ellipse cx="269.0" cy="1612.8" rx="4.6" ry="4.6" fill="#4b9be6" transform="rotate(0 269.0 1612.8)"/><ellipse cx="260.4" cy="1629.3" rx="4.9" ry="4.9" fill="#4b9be6" transform="rotate(0 260.4 1629.3)"/><ellipse cx="341.8" cy="1628.8" rx="7.0" ry="7.6" fill="#4a86cc" transform="rotate(0 341.8 1628.8)"/><ellipse cx="378.8" cy="1670.8" rx="4.2" ry="4.2" fill="#4a86cc" transform="rotate(0 378.8 1670.8)"/><ellipse cx="331.9" cy="1689.8" rx="5.9" ry="5.5" fill="#4b9be6" transform="rotate(0 331.9 1689.8)"/><ellipse cx="353.2" cy="1724.4" rx="6.3" ry="6.3" fill="#4a86cc" transform="rotate(0 353.2 1724.4)"/><ellipse cx="279.0" cy="1760.9" rx="4.4" ry="4.4" fill="#4b9be6" transform="rotate(0 279.0 1760.9)"/></g>
<g fill="#ff2a2a"><circle cx="263.2" cy="1618.9" r="1.55"/><circle cx="370.3" cy="1671.7" r="1.55"/><circle cx="269.0" cy="1761.5" r="1.55"/></g>
<g fill="#fff"><path d="M258.7,1615.1 Q255.0,1604.8 248.4,1594.8 Q248.9,1602.3 248.4,1606.3 Q244.6,1607.4 237.0,1608.1 Q248.0,1613.1 258.7,1615.1Z"/><path d="M367.0,1677.8 Q357.5,1683.1 348.7,1691.2 Q356.1,1689.5 360.0,1689.4 Q361.7,1693.0 363.6,1700.3 Q366.8,1688.7 367.0,1677.8Z"/><path d="M268.6,1752.9 Q273.9,1743.4 277.0,1731.8 Q271.7,1737.2 268.4,1739.4 Q265.0,1737.3 259.5,1732.0 Q263.0,1743.5 268.6,1752.9Z"/></g>
</g>
<rect x="411.10" y="1546.50" width="173.00" height="231.00" fill="#000" stroke="none" stroke-width="0" />
<g clip-path="url(#cp21)">
<g filter="url(#tex)"><rect x="386.1" y="1521.5" width="223.0" height="281.0" fill="#d01818" fill-opacity="0.198"/><ellipse cx="460.5" cy="1562.4" rx="15.2" ry="14.3" fill="#c41a1a" fill-opacity="0.53" transform="rotate(0 460.5 1562.4)"/><ellipse cx="500.8" cy="1621.7" rx="16.2" ry="15.2" fill="#c41a1a" fill-opacity="0.53" transform="rotate(0 500.8 1621.7)"/><ellipse cx="477.0" cy="1671.2" rx="15.2" ry="15.2" fill="#c41a1a" fill-opacity="0.46" transform="rotate(20 477.0 1671.2)"/><ellipse cx="561.6" cy="1680.7" rx="17.1" ry="15.2" fill="#c41a1a" fill-opacity="0.56" transform="rotate(0 561.6 1680.7)"/><ellipse cx="491.8" cy="1715.8" rx="15.2" ry="15.2" fill="#c41a1a" fill-opacity="0.53" transform="rotate(0 491.8 1715.8)"/><ellipse cx="574.5" cy="1732.9" rx="13.3" ry="13.3" fill="#c41a1a" fill-opacity="0.53" transform="rotate(0 574.5 1732.9)"/><ellipse cx="462.4" cy="1748.2" rx="15.2" ry="14.3" fill="#c41a1a" fill-opacity="0.53" transform="rotate(0 462.4 1748.2)"/><ellipse cx="419.0" cy="1606.5" rx="11.4" ry="19.0" fill="#c41a1a" fill-opacity="0.26" transform="rotate(0 419.0 1606.5)"/><ellipse cx="514.1" cy="1758.6" rx="28.5" ry="15.2" fill="#c41a1a" fill-opacity="0.20" transform="rotate(0 514.1 1758.6)"/><ellipse cx="447.5" cy="1701.6" rx="19.0" ry="15.2" fill="#c41a1a" fill-opacity="0.20" transform="rotate(0 447.5 1701.6)"/></g>
<g filter="url(#nb)" opacity="0.9"><ellipse cx="460.5" cy="1562.4" rx="6.5" ry="6.1" fill="#4169c4" transform="rotate(0 460.5 1562.4)"/><ellipse cx="424.3" cy="1577.1" rx="4.8" ry="4.8" fill="#4b9be6" transform="rotate(0 424.3 1577.1)"/><ellipse cx="500.8" cy="1621.7" rx="6.1" ry="6.1" fill="#4169c4" transform="rotate(0 500.8 1621.7)"/><ellipse cx="544.5" cy="1634.1" rx="6.1" ry="6.1" fill="#4a86cc" transform="rotate(0 544.5 1634.1)"/><ellipse cx="582.1" cy="1629.3" rx="3.8" ry="5.1" fill="#4b9be6" transform="rotate(0 582.1 1629.3)"/><ellipse cx="452.3" cy="1645.5" rx="4.8" ry="4.8" fill="#4b9be6" transform="rotate(0 452.3 1645.5)"/><ellipse cx="477.0" cy="1671.2" rx="6.1" ry="5.8" fill="#4169c4" transform="rotate(20 477.0 1671.2)"/><ellipse cx="561.6" cy="1680.7" rx="5.8" ry="6.1" fill="#4169c4" transform="rotate(0 561.6 1680.7)"/><ellipse cx="491.8" cy="1715.8" rx="6.0" ry="6.1" fill="#4169c4" transform="rotate(0 491.8 1715.8)"/><ellipse cx="574.5" cy="1732.9" rx="6.8" ry="5.8" fill="#4169c4" transform="rotate(0 574.5 1732.9)"/><ellipse cx="462.4" cy="1748.2" rx="6.0" ry="6.0" fill="#4169c4" transform="rotate(0 462.4 1748.2)"/></g>
<g filter="url(#nt)" opacity="0.5"><rect x="411.1" y="1546.5" width="173.0" height="231.0" fill="none"/><ellipse cx="460.5" cy="1562.4" rx="6.5" ry="6.1" fill="#d83c78" transform="rotate(0 460.5 1562.4)"/><ellipse cx="500.8" cy="1621.7" rx="6.1" ry="6.1" fill="#d83c78" transform="rotate(0 500.8 1621.7)"/><ellipse cx="477.0" cy="1671.2" rx="6.1" ry="5.8" fill="#d83c78" transform="rotate(20 477.0 1671.2)"/><ellipse cx="561.6" cy="1680.7" rx="5.8" ry="6.1" fill="#d83c78" transform="rotate(0 561.6 1680.7)"/><ellipse cx="491.8" cy="1715.8" rx="6.0" ry="6.1" fill="#d83c78" transform="rotate(0 491.8 1715.8)"/><ellipse cx="574.5" cy="1732.9" rx="6.8" ry="5.8" fill="#d83c78" transform="rotate(0 574.5 1732.9)"/><ellipse cx="462.4" cy="1748.2" rx="6.0" ry="6.0" fill="#d83c78" transform="rotate(0 462.4 1748.2)"/></g>
<g fill="#ff2a2a"><circle cx="447.9" cy="1654.1" r="1.55"/><circle cx="547.7" cy="1727.2" r="1.55"/></g>
<g fill="#fff"><path d="M446.6,1662.6 Q441.3,1672.2 438.3,1683.8 Q443.6,1678.4 446.8,1676.1 Q450.2,1678.2 455.7,1683.4 Q452.2,1671.9 446.6,1662.6Z"/><path d="M543.1,1723.4 Q539.3,1713.2 532.5,1703.3 Q533.2,1710.9 532.7,1714.8 Q528.9,1716.0 521.4,1716.8 Q532.4,1721.6 543.1,1723.4Z"/></g>
</g>
<rect x="596.90" y="1546.50" width="173.00" height="231.00" fill="#000" stroke="none" stroke-width="0" />
<g clip-path="url(#cp31)">
<g filter="url(#tex)"><rect x="571.9" y="1521.5" width="223.0" height="281.0" fill="#d01818" fill-opacity="0.252"/><ellipse cx="654.7" cy="1564.7" rx="9.5" ry="15.2" fill="#c41a1a" fill-opacity="0.53" transform="rotate(0 654.7 1564.7)"/><ellipse cx="685.1" cy="1593.2" rx="22.8" ry="15.2" fill="#c41a1a" fill-opacity="0.46" transform="rotate(20 685.1 1593.2)"/><ellipse cx="706.1" cy="1608.4" rx="15.2" ry="9.5" fill="#c41a1a" fill-opacity="0.53" transform="rotate(0 706.1 1608.4)"/><ellipse cx="614.8" cy="1652.2" rx="13.3" ry="11.4" fill="#c41a1a" fill-opacity="0.40" transform="rotate(0 614.8 1652.2)"/><ellipse cx="665.2" cy="1654.1" rx="9.5" ry="17.1" fill="#c41a1a" fill-opacity="0.46" transform="rotate(0 665.2 1654.1)"/><ellipse cx="647.1" cy="1682.6" rx="22.8" ry="22.8" fill="#c41a1a" fill-opacity="0.33" transform="rotate(0 647.1 1682.6)"/><ellipse cx="756.4" cy="1692.1" rx="17.1" ry="19.0" fill="#c41a1a" fill-opacity="0.53" transform="rotate(0 756.4 1692.1)"/><ellipse cx="660.1" cy="1705.0" rx="11.4" ry="11.4" fill="#c41a1a" fill-opacity="0.46" transform="rotate(0 660.1 1705.0)"/><ellipse cx="631.0" cy="1716.8" rx="13.3" ry="15.2" fill="#c41a1a" fill-opacity="0.53" transform="rotate(0 631.0 1716.8)"/><ellipse cx="678.5" cy="1721.5" rx="11.4" ry="11.4" fill="#c41a1a" fill-opacity="0.40" transform="rotate(0 678.5 1721.5)"/><ellipse cx="647.1" cy="1758.6" rx="24.7" ry="13.3" fill="#c41a1a" fill-opacity="0.53" transform="rotate(0 647.1 1758.6)"/><ellipse cx="681.3" cy="1758.6" rx="15.2" ry="15.2" fill="#c41a1a" fill-opacity="0.66" transform="rotate(0 681.3 1758.6)"/><ellipse cx="740.3" cy="1757.7" rx="15.2" ry="11.4" fill="#c41a1a" fill-opacity="0.46" transform="rotate(0 740.3 1757.7)"/><ellipse cx="618.6" cy="1768.1" rx="22.8" ry="11.4" fill="#c41a1a" fill-opacity="0.40" transform="rotate(0 618.6 1768.1)"/><ellipse cx="628.1" cy="1597.0" rx="28.5" ry="28.5" fill="#c41a1a" fill-opacity="0.26" transform="rotate(0 628.1 1597.0)"/><ellipse cx="732.7" cy="1635.0" rx="19.0" ry="19.0" fill="#c41a1a" fill-opacity="0.23" transform="rotate(0 732.7 1635.0)"/></g>
<g filter="url(#nb)" opacity="0.9"><ellipse cx="654.7" cy="1564.7" rx="4.4" ry="7.3" fill="#4169c4" transform="rotate(5 654.7 1564.7)"/><ellipse cx="706.1" cy="1608.4" rx="7.3" ry="4.5" fill="#4169c4" transform="rotate(0 706.1 1608.4)"/><ellipse cx="614.8" cy="1652.2" rx="6.9" ry="4.8" fill="#4169c4" transform="rotate(10 614.8 1652.2)"/><ellipse cx="665.2" cy="1649.9" rx="4.0" ry="6.8" fill="#4169c4" transform="rotate(-5 665.2 1649.9)"/><ellipse cx="756.4" cy="1688.3" rx="4.8" ry="6.8" fill="#4169c4" transform="rotate(15 756.4 1688.3)"/><ellipse cx="723.5" cy="1687.3" rx="4.8" ry="4.8" fill="#4b9be6" transform="rotate(0 723.5 1687.3)"/><ellipse cx="660.1" cy="1705.0" rx="4.5" ry="4.5" fill="#4169c4" transform="rotate(0 660.1 1705.0)"/><ellipse cx="631.0" cy="1716.8" rx="4.8" ry="6.5" fill="#4169c4" transform="rotate(0 631.0 1716.8)"/><ellipse cx="678.5" cy="1721.5" rx="4.4" ry="4.4" fill="#4b9be6" transform="rotate(0 678.5 1721.5)"/><ellipse cx="658.2" cy="1756.7" rx="5.3" ry="5.3" fill="#4a86cc" transform="rotate(0 658.2 1756.7)"/><ellipse cx="639.9" cy="1762.0" rx="6.9" ry="4.4" fill="#4169c4" transform="rotate(-10 639.9 1762.0)"/><ellipse cx="685.7" cy="1761.5" rx="3.6" ry="4.0" fill="#4169c4" transform="rotate(0 685.7 1761.5)"/><ellipse cx="740.3" cy="1757.7" rx="6.8" ry="5.2" fill="#4169c4" transform="rotate(0 740.3 1757.7)"/></g>
<g filter="url(#nt)" opacity="0.5"><rect x="596.9" y="1546.5" width="173.0" height="231.0" fill="none"/><ellipse cx="654.7" cy="1564.7" rx="4.4" ry="7.3" fill="#d83c78" transform="rotate(5 654.7 1564.7)"/><ellipse cx="706.1" cy="1608.4" rx="7.3" ry="4.5" fill="#d83c78" transform="rotate(0 706.1 1608.4)"/><ellipse cx="614.8" cy="1652.2" rx="6.9" ry="4.8" fill="#d83c78" transform="rotate(10 614.8 1652.2)"/><ellipse cx="665.2" cy="1649.9" rx="4.0" ry="6.8" fill="#d83c78" transform="rotate(-5 665.2 1649.9)"/><ellipse cx="756.4" cy="1688.3" rx="4.8" ry="6.8" fill="#d83c78" transform="rotate(15 756.4 1688.3)"/><ellipse cx="660.1" cy="1705.0" rx="4.5" ry="4.5" fill="#d83c78" transform="rotate(0 660.1 1705.0)"/><ellipse cx="631.0" cy="1716.8" rx="4.8" ry="6.5" fill="#d83c78" transform="rotate(0 631.0 1716.8)"/><ellipse cx="639.9" cy="1762.0" rx="6.9" ry="4.4" fill="#d83c78" transform="rotate(-10 639.9 1762.0)"/><ellipse cx="685.7" cy="1761.5" rx="3.6" ry="4.0" fill="#d83c78" transform="rotate(0 685.7 1761.5)"/><ellipse cx="740.3" cy="1757.7" rx="6.8" ry="5.2" fill="#d83c78" transform="rotate(0 740.3 1757.7)"/></g>
<g fill="#ff2a2a"><circle cx="733.2" cy="1646.5" r="1.55"/><circle cx="722.6" cy="1694.9" r="1.55"/><circle cx="748.8" cy="1671.2" r="1.55"/></g>
<g fill="#fff"><path d="M739.3,1643.6 Q749.8,1646.5 761.8,1646.8 Q755.4,1642.9 752.4,1640.2 Q753.7,1636.4 757.5,1629.9 Q747.1,1636.0 739.3,1643.6Z"/><path d="M713.7,1697.4 Q703.0,1695.0 691.0,1695.3 Q697.7,1698.9 700.8,1701.4 Q699.7,1705.2 696.2,1712.0 Q706.2,1705.4 713.7,1697.4Z"/></g>
</g>
<rect x="782.40" y="1546.50" width="173.00" height="231.00" fill="#000" stroke="none" stroke-width="0" />
<g clip-path="url(#cp41)">
<g filter="url(#tex)"><rect x="757.4" y="1521.5" width="223.0" height="281.0" fill="#d01818" fill-opacity="0.216"/><ellipse cx="852.5" cy="1755.2" rx="9.5" ry="8.1" fill="#c41a1a" fill-opacity="0.33" transform="rotate(0 852.5 1755.2)"/></g>
<g filter="url(#ndf)" opacity="0.85"><rect x="782.4" y="1546.5" width="173.0" height="231.0" fill="none"/><ellipse cx="815.3" cy="1572.5" rx="5.0" ry="5.0" fill="#22507e" transform="rotate(0 815.3 1572.5)"/><ellipse cx="938.5" cy="1550.1" rx="5.0" ry="5.0" fill="#22507e" transform="rotate(0 938.5 1550.1)"/><ellipse cx="893.1" cy="1575.2" rx="5.0" ry="5.0" fill="#22507e" transform="rotate(0 893.1 1575.2)"/><ellipse cx="911.4" cy="1580.6" rx="5.0" ry="5.0" fill="#22507e" transform="rotate(0 911.4 1580.6)"/><ellipse cx="950.6" cy="1580.6" rx="5.0" ry="5.0" fill="#22507e" transform="rotate(0 950.6 1580.6)"/><ellipse cx="872.2" cy="1595.5" rx="5.0" ry="5.0" fill="#22507e" transform="rotate(0 872.2 1595.5)"/><ellipse cx="918.8" cy="1592.1" rx="5.0" ry="5.0" fill="#22507e" transform="rotate(0 918.8 1592.1)"/><ellipse cx="786.9" cy="1604.3" rx="5.0" ry="5.0" fill="#22507e" transform="rotate(0 786.9 1604.3)"/><ellipse cx="835.6" cy="1610.4" rx="5.0" ry="5.0" fill="#22507e" transform="rotate(0 835.6 1610.4)"/><ellipse cx="931.0" cy="1615.8" rx="5.0" ry="5.0" fill="#22507e" transform="rotate(0 931.0 1615.8)"/><ellipse cx="811.9" cy="1632.7" rx="5.0" ry="5.0" fill="#22507e" transform="rotate(0 811.9 1632.7)"/><ellipse cx="860.7" cy="1628.6" rx="5.0" ry="5.0" fill="#22507e" transform="rotate(0 860.7 1628.6)"/><ellipse cx="851.9" cy="1646.2" rx="5.0" ry="5.0" fill="#22507e" transform="rotate(0 851.9 1646.2)"/><ellipse cx="899.9" cy="1648.3" rx="5.0" ry="5.0" fill="#22507e" transform="rotate(0 899.9 1648.3)"/><ellipse cx="890.4" cy="1655.0" rx="5.0" ry="5.0" fill="#22507e" transform="rotate(0 890.4 1655.0)"/><ellipse cx="805.2" cy="1659.1" rx="5.0" ry="5.0" fill="#22507e" transform="rotate(0 805.2 1659.1)"/><ellipse cx="923.6" cy="1682.8" rx="5.0" ry="5.0" fill="#22507e" transform="rotate(0 923.6 1682.8)"/><ellipse cx="830.9" cy="1694.3" rx="5.0" ry="5.0" fill="#22507e" transform="rotate(0 830.9 1694.3)"/><ellipse cx="843.7" cy="1697.6" rx="5.0" ry="5.0" fill="#22507e" transform="rotate(0 843.7 1697.6)"/><ellipse cx="895.2" cy="1695.6" rx="5.0" ry="5.0" fill="#22507e" transform="rotate(0 895.2 1695.6)"/><ellipse cx="883.0" cy="1715.9" rx="5.0" ry="5.0" fill="#22507e" transform="rotate(0 883.0 1715.9)"/><ellipse cx="807.9" cy="1721.3" rx="5.0" ry="5.0" fill="#22507e" transform="rotate(0 807.9 1721.3)"/><ellipse cx="916.8" cy="1728.8" rx="5.0" ry="5.0" fill="#22507e" transform="rotate(0 916.8 1728.8)"/><ellipse cx="852.5" cy="1738.2" rx="5.0" ry="5.0" fill="#22507e" transform="rotate(0 852.5 1738.2)"/><ellipse cx="934.4" cy="1739.6" rx="5.0" ry="5.0" fill="#22507e" transform="rotate(0 934.4 1739.6)"/><ellipse cx="893.1" cy="1744.3" rx="5.0" ry="5.0" fill="#22507e" transform="rotate(0 893.1 1744.3)"/><ellipse cx="801.8" cy="1756.5" rx="5.0" ry="5.0" fill="#22507e" transform="rotate(0 801.8 1756.5)"/><ellipse cx="862.0" cy="1751.1" rx="5.0" ry="5.0" fill="#22507e" transform="rotate(0 862.0 1751.1)"/><ellipse cx="851.2" cy="1770.0" rx="5.0" ry="5.0" fill="#22507e" transform="rotate(0 851.2 1770.0)"/><ellipse cx="903.3" cy="1768.7" rx="5.0" ry="5.0" fill="#22507e" transform="rotate(0 903.3 1768.7)"/></g>
<g filter="url(#nb)" opacity="0.9"></g>
<g fill="#ff2a2a"><circle cx="821.2" cy="1604.0" r="1.55"/><circle cx="880.3" cy="1596.6" r="1.55"/><circle cx="919.8" cy="1589.8" r="1.55"/><circle cx="888.1" cy="1617.1" r="1.55"/><circle cx="896.5" cy="1668.3" r="1.55"/><circle cx="826.6" cy="1676.7" r="1.55"/><circle cx="816.0" cy="1726.7" r="1.55"/><circle cx="865.4" cy="1699.0" r="1.55"/></g>
<g fill="#fff"><path d="M827.1,1599.1 Q837.7,1597.4 848.5,1592.8 Q841.3,1591.7 837.5,1590.5 Q837.1,1586.6 837.3,1579.3 Q830.7,1589.1 827.1,1599.1Z"/><path d="M881.6,1587.6 Q887.7,1578.8 891.8,1567.8 Q886.0,1572.2 882.6,1574.2 Q879.4,1571.7 874.3,1566.6 Q876.9,1578.1 881.6,1587.6Z"/><path d="M925.3,1595.9 Q924.2,1606.5 925.9,1618.2 Q928.8,1611.5 931.0,1608.2 Q934.9,1608.8 941.8,1610.9 Q934.1,1602.0 925.3,1595.9Z"/><path d="M893.8,1620.5 Q899.0,1629.9 907.0,1638.5 Q905.6,1631.4 905.4,1627.4 Q909.0,1625.7 915.9,1623.4 Q904.5,1620.5 893.8,1620.5Z"/><path d="M900.6,1664.5 Q911.0,1661.9 921.4,1656.4 Q914.1,1655.9 910.2,1655.1 Q909.5,1651.1 909.1,1643.9 Q903.4,1654.2 900.6,1664.5Z"/><path d="M832.2,1673.7 Q842.8,1672.0 853.6,1667.4 Q846.5,1666.3 842.7,1665.1 Q842.3,1661.1 842.5,1653.9 Q835.9,1663.6 832.2,1673.7Z"/><path d="M821.4,1728.8 Q828.6,1736.7 838.4,1743.2 Q835.4,1736.6 834.3,1732.8 Q837.4,1730.3 843.6,1726.5 Q831.8,1726.3 821.4,1728.8Z"/></g>
</g>
<rect x="915.90" y="1767.40" width="31.80" height="3.40" fill="#fff" stroke="none" stroke-width="0" />
<text x="931.80" y="1764.00" font-size="11.8" text-anchor="middle" fill="#fff" >20um</text>
<text x="1004.30" y="1268.50" font-size="52" text-anchor="start" fill="#000" >F</text>
<text x="1064.2" y="1529.5" font-size="32.3" font-weight="bold" stroke="#000" stroke-width="0.45" text-anchor="middle" textLength="321" lengthAdjust="spacingAndGlyphs" transform="rotate(-90 1064.2 1529.5)">% of ASC-speck<tspan font-size="20" dy="-11">+</tspan><tspan dy="11"> cells</tspan></text>
<rect x="1326.20" y="1501.90" width="47.20" height="214.70" fill="#f0a04b" stroke="#000" stroke-width="3.4" />
<rect x="1402.90" y="1593.20" width="47.20" height="123.40" fill="#f8601a" stroke="#000" stroke-width="3.4" />
<rect x="1493.60" y="1537.70" width="47.20" height="178.90" fill="#f0a04b" stroke="#000" stroke-width="3.4" />
<rect x="1571.00" y="1593.90" width="47.20" height="122.70" fill="#f8601a" stroke="#000" stroke-width="3.4" />
<rect x="1661.30" y="1605.40" width="47.20" height="111.20" fill="#f0a04b" stroke="#000" stroke-width="3.4" />
<rect x="1738.20" y="1659.90" width="47.20" height="56.70" fill="#f8601a" stroke="#000" stroke-width="3.4" />
<rect x="1828.90" y="1419.10" width="47.20" height="297.50" fill="#a1a1a5" stroke="#000" stroke-width="3.4" />
<rect x="1906.10" y="1426.50" width="47.20" height="290.10" fill="#616262" stroke="#000" stroke-width="3.4" />
<rect x="1157.00" y="1710.50" width="50.00" height="4.00" fill="#000" stroke="none" stroke-width="0" />
<rect x="1234.00" y="1708.50" width="50.00" height="6.00" fill="#000" stroke="none" stroke-width="0" />
<line x1="1349.80" y1="1482.50" x2="1349.80" y2="1515.20" stroke="#000" stroke-width="2.9" />
<line x1="1337.55" y1="1482.50" x2="1362.05" y2="1482.50" stroke="#000" stroke-width="2.9" />
<line x1="1337.55" y1="1515.20" x2="1362.05" y2="1515.20" stroke="#000" stroke-width="2.9" />
<line x1="1426.50" y1="1575.50" x2="1426.50" y2="1605.30" stroke="#000" stroke-width="2.9" />
<line x1="1414.25" y1="1575.50" x2="1438.75" y2="1575.50" stroke="#000" stroke-width="2.9" />
<line x1="1414.25" y1="1605.30" x2="1438.75" y2="1605.30" stroke="#000" stroke-width="2.9" />
<line x1="1517.20" y1="1508.80" x2="1517.20" y2="1562.70" stroke="#000" stroke-width="2.9" />
<line x1="1504.95" y1="1508.80" x2="1529.45" y2="1508.80" stroke="#000" stroke-width="2.9" />
<line x1="1504.95" y1="1562.70" x2="1529.45" y2="1562.70" stroke="#000" stroke-width="2.9" />
<line x1="1594.60" y1="1570.70" x2="1594.60" y2="1612.40" stroke="#000" stroke-width="2.9" />
<line x1="1582.35" y1="1570.70" x2="1606.85" y2="1570.70" stroke="#000" stroke-width="2.9" />
<line x1="1582.35" y1="1612.40" x2="1606.85" y2="1612.40" stroke="#000" stroke-width="2.9" />
<line x1="1684.90" y1="1587.70" x2="1684.90" y2="1617.80" stroke="#000" stroke-width="2.9" />
<line x1="1672.65" y1="1587.70" x2="1697.15" y2="1587.70" stroke="#000" stroke-width="2.9" />
<line x1="1672.65" y1="1617.80" x2="1697.15" y2="1617.80" stroke="#000" stroke-width="2.9" />
<line x1="1761.80" y1="1649.20" x2="1761.80" y2="1665.30" stroke="#000" stroke-width="2.9" />
<line x1="1749.55" y1="1649.20" x2="1774.05" y2="1649.20" stroke="#000" stroke-width="2.9" />
<line x1="1749.55" y1="1665.30" x2="1774.05" y2="1665.30" stroke="#000" stroke-width="2.9" />
<line x1="1852.50" y1="1385.40" x2="1852.50" y2="1447.90" stroke="#000" stroke-width="2.9" />
<line x1="1840.25" y1="1385.40" x2="1864.75" y2="1385.40" stroke="#000" stroke-width="2.9" />
<line x1="1840.25" y1="1447.90" x2="1864.75" y2="1447.90" stroke="#000" stroke-width="2.9" />
<line x1="1929.70" y1="1396.00" x2="1929.70" y2="1451.10" stroke="#000" stroke-width="2.9" />
<line x1="1917.45" y1="1396.00" x2="1941.95" y2="1396.00" stroke="#000" stroke-width="2.9" />
<line x1="1917.45" y1="1451.10" x2="1941.95" y2="1451.10" stroke="#000" stroke-width="2.9" />
<line x1="1182.00" y1="1707.00" x2="1182.00" y2="1713.00" stroke="#000" stroke-width="2.9" />
<line x1="1169.75" y1="1707.00" x2="1194.25" y2="1707.00" stroke="#000" stroke-width="2.9" />
<line x1="1259.00" y1="1704.50" x2="1259.00" y2="1713.00" stroke="#000" stroke-width="2.9" />
<line x1="1246.75" y1="1704.50" x2="1271.25" y2="1704.50" stroke="#000" stroke-width="2.9" />
<line x1="1304.50" y1="1462.00" x2="1304.50" y2="1716.60" stroke="#000" stroke-width="1.9" stroke-dasharray="0.01 5.9" stroke-linecap="round"/>
<line x1="1472.00" y1="1462.00" x2="1472.00" y2="1716.60" stroke="#000" stroke-width="1.9" stroke-dasharray="0.01 5.9" stroke-linecap="round"/>
<line x1="1639.30" y1="1462.00" x2="1639.30" y2="1716.60" stroke="#000" stroke-width="1.9" stroke-dasharray="0.01 5.9" stroke-linecap="round"/>
<line x1="1807.00" y1="1462.00" x2="1807.00" y2="1716.60" stroke="#000" stroke-width="1.9" stroke-dasharray="0.01 5.9" stroke-linecap="round"/>
<line x1="1130.70" y1="1228.50" x2="1130.70" y2="1719.30" stroke="#000" stroke-width="5.4" />
<line x1="1114.00" y1="1716.60" x2="1986.00" y2="1716.60" stroke="#000" stroke-width="5.4" />
<line x1="1114.00" y1="1716.60" x2="1130.70" y2="1716.60" stroke="#000" stroke-width="5.4" />
<text x="1109.90" y="1726.80" font-size="28.6" font-weight="bold" stroke="#000" stroke-width="0.45" stroke-linejoin="round" text-anchor="end" fill="#000"  textLength="15.29" lengthAdjust="spacingAndGlyphs">0</text>
<line x1="1114.00" y1="1593.34" x2="1130.70" y2="1593.34" stroke="#000" stroke-width="5.4" />
<text x="1109.90" y="1603.54" font-size="28.6" font-weight="bold" stroke="#000" stroke-width="0.45" stroke-linejoin="round" text-anchor="end" fill="#000"  textLength="30.59" lengthAdjust="spacingAndGlyphs">20</text>
<line x1="1114.00" y1="1470.08" x2="1130.70" y2="1470.08" stroke="#000" stroke-width="5.4" />
<text x="1109.90" y="1480.28" font-size="28.6" font-weight="bold" stroke="#000" stroke-width="0.45" stroke-linejoin="round" text-anchor="end" fill="#000"  textLength="30.59" lengthAdjust="spacingAndGlyphs">40</text>
<line x1="1114.00" y1="1346.82" x2="1130.70" y2="1346.82" stroke="#000" stroke-width="5.4" />
<text x="1109.90" y="1357.02" font-size="28.6" font-weight="bold" stroke="#000" stroke-width="0.45" stroke-linejoin="round" text-anchor="end" fill="#000"  textLength="30.59" lengthAdjust="spacingAndGlyphs">60</text>
<line x1="1181.30" y1="1716.60" x2="1181.30" y2="1733.50" stroke="#000" stroke-width="5.4" />
<line x1="1259.00" y1="1716.60" x2="1259.00" y2="1733.50" stroke="#000" stroke-width="5.4" />
<line x1="1349.30" y1="1716.60" x2="1349.30" y2="1733.50" stroke="#000" stroke-width="5.4" />
<line x1="1427.30" y1="1716.60" x2="1427.30" y2="1733.50" stroke="#000" stroke-width="5.4" />
<line x1="1516.90" y1="1716.60" x2="1516.90" y2="1733.50" stroke="#000" stroke-width="5.4" />
<line x1="1594.50" y1="1716.60" x2="1594.50" y2="1733.50" stroke="#000" stroke-width="5.4" />
<line x1="1684.50" y1="1716.60" x2="1684.50" y2="1733.50" stroke="#000" stroke-width="5.4" />
<line x1="1761.50" y1="1716.60" x2="1761.50" y2="1733.50" stroke="#000" stroke-width="5.4" />
<line x1="1852.00" y1="1716.60" x2="1852.00" y2="1733.50" stroke="#000" stroke-width="5.4" />
<line x1="1929.50" y1="1716.60" x2="1929.50" y2="1733.50" stroke="#000" stroke-width="5.4" />
<text x="1218.00" y="1762.00" font-size="28.39" font-weight="bold" stroke="#000" stroke-width="0.45" stroke-linejoin="round" text-anchor="middle" fill="#000"  textLength="124.38" lengthAdjust="spacingAndGlyphs">untreated</text>
<text x="1390.00" y="1762.00" font-size="28.39" font-weight="bold" stroke="#000" stroke-width="0.45" stroke-linejoin="round" text-anchor="middle" fill="#000"  textLength="113.77" lengthAdjust="spacingAndGlyphs">nigericin</text>
<text x="1557.90" y="1762.00" font-size="28.39" font-weight="bold" stroke="#000" stroke-width="0.45" stroke-linejoin="round" text-anchor="middle" fill="#000"  textLength="86.42" lengthAdjust="spacingAndGlyphs">pdAdT</text>
<text x="1729.00" y="1762.00" font-size="28.39" font-weight="bold" stroke="#000" stroke-width="0.45" stroke-linejoin="round" text-anchor="middle" fill="#000"  textLength="98.60" lengthAdjust="spacingAndGlyphs">UCN-01</text>
<text x="1897" y="1762" font-size="28.94" font-weight="bold" stroke="#000" stroke-width="0.45" text-anchor="middle" textLength="168.8" lengthAdjust="spacingAndGlyphs">SPI-1<tspan font-size="19" font-weight="normal" dy="8"> ON</tspan><tspan dy="-8"> STm</tspan></text>
<text x="1154.00" y="1280.50" font-size="30.5" text-anchor="start" fill="#000" >n = 120 fields of view</text>
<polygon points="1157.1,1313.6 1195.1,1313.6 1157.1,1351.5" fill="#f0a04b"/>
<polygon points="1195.1,1313.6 1195.1,1351.5 1157.1,1351.5" fill="#a1a1a5"/>
<line x1="1157.10" y1="1351.50" x2="1195.10" y2="1313.60" stroke="#000" stroke-width="2" />
<rect x="1157.10" y="1313.60" width="38.00" height="37.90" fill="none" stroke="#000" stroke-width="2.2" />
<polygon points="1157.1,1366.8999999999999 1195.1,1366.8999999999999 1157.1,1404.6" fill="#f8601a"/>
<polygon points="1195.1,1366.8999999999999 1195.1,1404.6 1157.1,1404.6" fill="#616262"/>
<line x1="1157.10" y1="1404.60" x2="1195.10" y2="1366.90" stroke="#000" stroke-width="2" />
<rect x="1157.10" y="1366.90" width="38.00" height="37.70" fill="none" stroke="#000" stroke-width="2.2" />
<text x="1200.00" y="1343.00" font-size="30.3" text-anchor="start" fill="#000" >uninfected</text>
<text x="1200.00" y="1396.50" font-size="30.3" text-anchor="start" fill="#000" >mAdV3</text>
<g fill="#f0d47f" ><circle cx="1349.7" cy="1391.8" r="4.4"/><circle cx="1349.7" cy="1401.7" r="4.4"/><circle cx="1349.7" cy="1409.4" r="4.4"/><circle cx="1349.7" cy="1420.0" r="4.4"/><circle cx="1349.7" cy="1426.4" r="4.4"/><circle cx="1349.7" cy="1434.4" r="4.4"/><circle cx="1349.7" cy="1455.3" r="4.4"/><circle cx="1349.7" cy="1468.1" r="4.4"/><circle cx="1349.7" cy="1488.3" r="4.4"/><circle cx="1349.7" cy="1500.2" r="4.4"/><circle cx="1349.7" cy="1515.2" r="4.4"/><circle cx="1349.7" cy="1531.6" r="4.4"/><circle cx="1349.7" cy="1543.4" r="4.4"/><circle cx="1349.7" cy="1553.7" r="4.4"/><circle cx="1349.7" cy="1559.5" r="4.4"/><circle cx="1349.7" cy="1587.4" r="4.4"/><circle cx="1343.9" cy="1594.7" r="4.4"/><circle cx="1355.8" cy="1597.0" r="4.4"/><circle cx="1349.7" cy="1614.0" r="4.4"/><circle cx="1427.3" cy="1488.0" r="4.4"/><circle cx="1427.3" cy="1510.7" r="4.4"/><circle cx="1415.1" cy="1531.6" r="4.4"/><circle cx="1427.3" cy="1531.6" r="4.4"/><circle cx="1439.4" cy="1530.6" r="4.4"/><circle cx="1420.8" cy="1555.3" r="4.4"/><circle cx="1433.0" cy="1553.1" r="4.4"/><circle cx="1427.3" cy="1570.1" r="4.4"/><circle cx="1427.3" cy="1587.4" r="4.4"/><circle cx="1415.1" cy="1606.0" r="4.4"/><circle cx="1427.3" cy="1606.0" r="4.4"/><circle cx="1427.3" cy="1617.2" r="4.4"/><circle cx="1427.3" cy="1638.0" r="4.4"/><circle cx="1427.3" cy="1645.4" r="4.4"/><circle cx="1421.5" cy="1674.3" r="4.4"/><circle cx="1433.0" cy="1675.5" r="4.4"/><circle cx="1427.3" cy="1716.6" r="4.4"/><circle cx="1517.2" cy="1402.4" r="4.4"/><circle cx="1517.2" cy="1453.7" r="4.4"/><circle cx="1517.2" cy="1527.4" r="4.4"/><circle cx="1517.2" cy="1546.0" r="4.4"/><circle cx="1517.2" cy="1556.9" r="4.4"/><circle cx="1517.2" cy="1580.3" r="4.4"/><circle cx="1517.2" cy="1586.7" r="4.4"/><circle cx="1517.2" cy="1636.4" r="4.4"/><circle cx="1594.5" cy="1524.2" r="4.4"/><circle cx="1594.5" cy="1536.4" r="4.4"/><circle cx="1594.5" cy="1591.5" r="4.4"/><circle cx="1588.4" cy="1626.2" r="4.4"/><circle cx="1600.6" cy="1628.4" r="4.4"/><circle cx="1594.5" cy="1645.4" r="4.4"/><circle cx="1684.6" cy="1546.6" r="4.4"/><circle cx="1684.6" cy="1570.7" r="4.4"/><circle cx="1678.1" cy="1614.6" r="4.4"/><circle cx="1690.6" cy="1614.6" r="4.4"/><circle cx="1678.1" cy="1639.6" r="4.4"/><circle cx="1690.6" cy="1635.8" r="4.4"/><circle cx="1755.7" cy="1635.8" r="4.4"/><circle cx="1767.9" cy="1638.7" r="4.4"/><circle cx="1761.5" cy="1651.8" r="4.4"/><circle cx="1755.7" cy="1669.1" r="4.4"/><circle cx="1767.9" cy="1673.3" r="4.4"/><circle cx="1755.7" cy="1679.7" r="4.4"/></g>
<g fill="#c0c0c0" ><circle cx="1163.7" cy="1707.6" r="4.4"/><circle cx="1163.7" cy="1716.6" r="4.4"/><circle cx="1176.2" cy="1713.4" r="4.4"/><circle cx="1188.4" cy="1706.3" r="4.4"/><circle cx="1188.4" cy="1716.6" r="4.4"/><circle cx="1200.6" cy="1705.4" r="4.4"/><circle cx="1200.6" cy="1715.9" r="4.4"/><circle cx="1240.7" cy="1707.6" r="4.4"/><circle cx="1240.7" cy="1716.6" r="4.4"/><circle cx="1258.9" cy="1700.5" r="4.4"/><circle cx="1265.3" cy="1708.6" r="4.4"/><circle cx="1265.3" cy="1716.6" r="4.4"/><circle cx="1277.5" cy="1707.0" r="4.4"/><circle cx="1277.5" cy="1714.0" r="4.4"/><circle cx="1839.7" cy="1234.0" r="4.4"/><circle cx="1851.9" cy="1239.8" r="4.4"/><circle cx="1851.9" cy="1280.5" r="4.4"/><circle cx="1839.7" cy="1301.4" r="4.4"/><circle cx="1851.9" cy="1304.6" r="4.4"/><circle cx="1864.7" cy="1303.9" r="4.4"/><circle cx="1858.3" cy="1326.1" r="4.4"/><circle cx="1846.5" cy="1331.2" r="4.4"/><circle cx="1839.7" cy="1341.5" r="4.4"/><circle cx="1864.7" cy="1340.8" r="4.4"/><circle cx="1851.9" cy="1346.3" r="4.4"/><circle cx="1851.9" cy="1390.2" r="4.4"/><circle cx="1851.9" cy="1397.6" r="4.4"/><circle cx="1851.9" cy="1420.6" r="4.4"/><circle cx="1864.7" cy="1552.4" r="4.4"/><circle cx="1851.9" cy="1557.9" r="4.4"/><circle cx="1851.9" cy="1583.5" r="4.4"/><circle cx="1851.9" cy="1598.6" r="4.4"/><circle cx="1851.9" cy="1605.3" r="4.4"/><circle cx="1851.9" cy="1645.1" r="4.4"/><circle cx="1851.9" cy="1674.9" r="4.4"/><circle cx="1929.5" cy="1248.5" r="4.4"/><circle cx="1929.5" cy="1261.9" r="4.4"/><circle cx="1929.5" cy="1284.7" r="4.4"/><circle cx="1929.5" cy="1291.1" r="4.4"/><circle cx="1929.5" cy="1301.4" r="4.4"/><circle cx="1929.5" cy="1324.5" r="4.4"/><circle cx="1929.5" cy="1333.4" r="4.4"/><circle cx="1929.5" cy="1346.3" r="4.4"/><circle cx="1929.5" cy="1375.8" r="4.4"/><circle cx="1929.5" cy="1397.6" r="4.4"/><circle cx="1929.5" cy="1404.6" r="4.4"/><circle cx="1929.5" cy="1411.3" r="4.4"/><circle cx="1929.5" cy="1423.9" r="4.4"/><circle cx="1929.5" cy="1443.4" r="4.4"/><circle cx="1929.5" cy="1521.6" r="4.4"/><circle cx="1929.5" cy="1569.1" r="4.4"/><circle cx="1923.4" cy="1579.7" r="4.4"/><circle cx="1935.9" cy="1583.5" r="4.4"/><circle cx="1929.5" cy="1593.1" r="4.4"/><circle cx="1929.5" cy="1602.8" r="4.4"/><circle cx="1929.5" cy="1629.0" r="4.4"/></g>
<text x="1220.60" y="1677.50" font-size="20.4" text-anchor="middle" fill="#000" >p = 0.568</text>
<text x="1389.30" y="1458.50" font-size="20.4" text-anchor="middle" fill="#000" >p &lt; 0.001</text>
<text x="1555.50" y="1480.30" font-size="20.4" text-anchor="middle" fill="#000" >p = 0.124</text>
<text x="1722.90" y="1563.60" font-size="20.4" text-anchor="middle" fill="#000" >p = 0.014</text>
<text x="1891.50" y="1366.10" font-size="20.4" text-anchor="middle" fill="#000" >p = 0.861</text>
</svg>
</body></html>
